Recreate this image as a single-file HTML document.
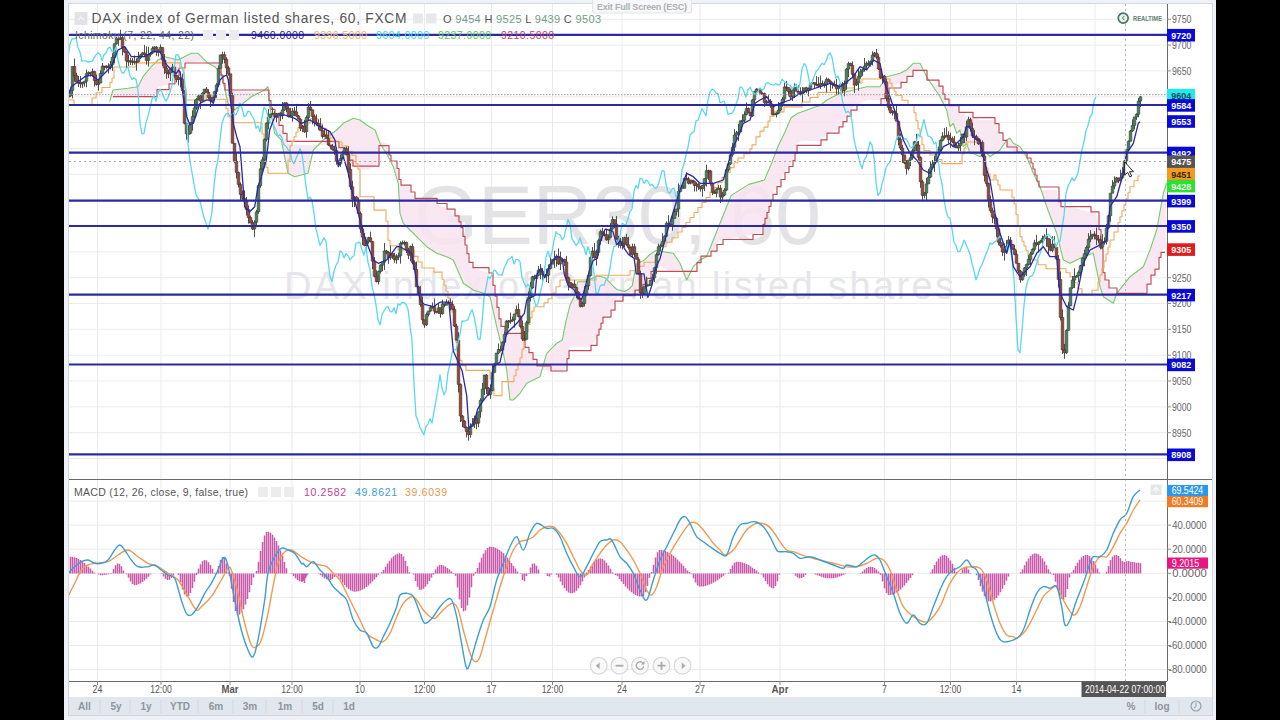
<!DOCTYPE html><html><head><meta charset="utf-8"><style>html,body{margin:0;padding:0;background:#000;overflow:hidden}svg{display:block}text{font-family:"Liberation Sans",sans-serif}</style></head><body><svg width="1280" height="720" viewBox="0 0 1280 720"><defs><clipPath id="cm"><rect x="69" y="4" width="1098" height="475"/></clipPath><clipPath id="cb"><rect x="69" y="480" width="1098" height="201"/></clipPath></defs><rect x="0" y="0" width="1280" height="720" fill="#000"/><rect x="64" y="0" width="1152" height="720" fill="#eef1f6"/><rect x="68.5" y="3.5" width="1144" height="712" fill="#fff" stroke="#d4d8df" stroke-width="1"/><rect x="69" y="697" width="1143" height="18.5" fill="#e2e6ed"/><path d="M69 715.5H1212" stroke="#d0d4db"/><path d="M97.5 4V479M97.5 480V681M161 4V479M161 480V681M230 4V479M230 480V681M292 4V479M292 480V681M360 4V479M360 480V681M424.5 4V479M424.5 480V681M491.5 4V479M491.5 480V681M552.5 4V479M552.5 480V681M622 4V479M622 480V681M700 4V479M700 480V681M780 4V479M780 480V681M884.5 4V479M884.5 480V681M950.5 4V479M950.5 480V681M1016.5 4V479M1016.5 480V681M1095 4V479M1095 480V681M69 458.5H1167M69 432.7H1167M69 406.9H1167M69 381.0H1167M69 355.2H1167M69 329.3H1167M69 303.5H1167M69 277.7H1167M69 251.8H1167M69 226.0H1167M69 200.1H1167M69 174.3H1167M69 148.5H1167M69 122.6H1167M69 96.8H1167M69 70.9H1167M69 45.1H1167M69 19.3H1167M69 669.6H1167M69 645.5H1167M69 621.5H1167M69 597.4H1167M69 573.3H1167M69 549.2H1167M69 525.1H1167M69 501.1H1167" stroke="#ebebeb" stroke-width="1" fill="none"/><text x="414" y="244" font-size="83" fill="#e3e3e6" textLength="407" lengthAdjust="spacingAndGlyphs">GER30, 60</text><text x="284" y="299" font-size="38" fill="#e6e6ea" textLength="670" lengthAdjust="spacing">DAX index of German listed shares</text><g clip-path="url(#cm)"><path d="M113.0 90.0L114.0 89.9L115.0 89.8L116.0 89.7L117.0 89.6L118.0 89.4L119.0 89.3L120.0 89.2L121.0 89.1L122.0 89.0L123.0 88.9L124.0 88.8L125.0 88.7L126.0 88.6L127.0 88.4L128.0 88.3L129.0 88.2L130.0 88.0L131.0 87.8L132.0 87.7L133.0 87.5L134.0 87.3L135.0 87.2L136.0 87.0L137.0 86.8L138.0 86.7L139.0 84.7L140.0 82.7L141.0 80.7L142.0 78.7L143.0 76.7L144.0 75.5L145.0 74.3L146.0 73.1L147.0 71.9L148.0 70.7L149.0 69.5L150.0 68.3L151.0 67.1L152.0 66.0L153.0 65.0L154.0 64.0L155.0 63.0L156.0 62.0L157.0 61.0L158.0 60.0L159.0 59.5L160.0 59.0L161.0 58.5L162.0 58.0L163.0 57.5L164.0 57.0L165.0 56.7L166.0 57.0L167.0 57.2L168.0 57.5L169.0 57.7L170.0 58.0L171.0 58.2L172.0 58.5L173.0 58.8L174.0 59.0L175.0 59.2L176.0 59.5L177.0 59.8L178.0 60.0L179.0 59.5L180.0 59.0L181.0 58.5L182.0 58.0L183.0 57.5L184.0 57.0L185.0 56.5L186.0 56.0L187.0 55.5L188.0 55.0L189.0 54.5L190.0 54.0L191.0 53.5L192.0 53.3L193.0 53.3L194.0 53.3L195.0 53.3L196.0 53.3L197.0 53.3L198.0 53.3L199.0 54.3L200.0 55.3L201.0 56.3L202.0 57.3L203.0 58.3L204.0 59.3L205.0 60.3L206.0 61.3L207.0 62.3L208.0 63.3L209.0 63.8L210.0 64.3L211.0 64.8L212.0 65.3L213.0 65.8L214.0 66.3L215.0 67.0L216.0 68.0L217.0 69.0L218.0 70.0L219.0 71.0L220.0 72.0L221.0 73.0L222.0 76.3L223.0 80.8L224.0 85.3L225.0 89.8L226.0 94.3L227.0 98.8L228.0 103.3L229.0 104.3L230.0 105.3L231.0 106.3L232.0 107.3L233.0 108.3L234.0 109.3L235.0 109.7L236.0 108.9L237.0 108.1L238.0 107.3L239.0 106.5L240.0 105.7L241.0 104.9L242.0 104.1L243.0 103.3L244.0 102.5L245.0 101.7L246.0 100.9L247.0 100.1L248.0 99.3L249.0 98.5L250.0 97.7L251.0 96.9L252.0 96.3L253.0 95.8L254.0 95.3L255.0 94.8L256.0 94.3L257.0 93.8L258.0 93.3L259.0 92.8L260.0 92.3L261.0 91.8L262.0 91.3L263.0 90.8L264.0 90.3L265.0 89.7L266.0 88.7L267.0 87.7L268.0 86.7L269.0 98.7L270.0 108.4L271.0 113.8L272.0 119.1L273.0 124.4L274.0 129.8L275.0 133.7L276.0 134.7L277.0 135.7L278.0 136.7L279.0 137.7L280.0 138.7L281.0 139.7L282.0 143.3L283.0 148.3L284.0 153.3L285.0 158.3L286.0 163.3L287.0 168.3L288.0 173.3L289.0 173.8L290.0 174.3L291.0 174.8L292.0 175.3L293.0 175.8L294.0 176.3L295.0 176.6L296.0 176.3L297.0 176.1L298.0 175.8L299.0 175.6L300.0 175.3L301.0 175.1L302.0 174.8L303.0 174.6L304.0 174.3L305.0 174.1L306.0 173.8L307.0 173.6L308.0 173.3L309.0 169.0L310.0 164.6L311.0 160.2L312.0 155.8L313.0 151.5L314.0 149.3L315.0 148.3L316.0 147.3L317.0 146.3L318.0 145.3L319.0 144.3L320.0 143.3L321.0 142.3L322.0 141.3L323.0 140.3L324.0 139.5L325.0 138.8L326.0 138.0L327.0 137.2L328.0 136.5L329.0 135.8L330.0 135.0L331.0 134.2L332.0 133.5L333.0 132.8L334.0 132.0L335.0 131.2L336.0 130.5L337.0 129.7L338.0 128.7L339.0 127.7L340.0 126.7L341.0 125.7L342.0 124.7L343.0 123.7L344.0 123.0L345.0 122.5L346.0 122.0L347.0 121.5L348.0 121.0L349.0 120.5L350.0 120.0L351.0 119.5L352.0 119.0L353.0 118.5L354.0 118.5L355.0 118.8L356.0 119.0L357.0 119.2L358.0 119.5L359.0 119.8L360.0 120.0L361.0 120.8L362.0 121.5L363.0 122.2L364.0 123.0L365.0 123.7L366.0 124.5L367.0 125.2L368.0 125.8L369.0 126.4L370.0 127.0L371.0 127.6L372.0 128.2L373.0 128.8L374.0 129.4L375.0 130.0L376.0 132.7L377.0 135.3L378.0 138.0L379.0 140.7L380.0 143.3L381.0 144.9L382.0 146.5L383.0 148.1L384.0 149.7L385.0 151.3L386.0 152.9L387.0 154.5L388.0 156.1L389.0 158.0L390.0 160.0L391.0 162.0L392.0 164.0L393.0 166.0L394.0 168.9L395.0 172.2L396.0 175.6L397.0 178.9L398.0 182.2L399.0 195.3L400.0 213.3L401.0 216.3L402.0 219.3L403.0 222.3L404.0 224.0L405.0 225.0L406.0 226.0L407.0 227.0L408.0 228.0L409.0 229.0L410.0 230.0L411.0 231.0L412.0 232.0L413.0 233.0L414.0 234.0L415.0 235.0L416.0 236.0L417.0 237.0L418.0 238.0L419.0 239.0L420.0 240.0L421.0 241.0L422.0 242.0L423.0 243.0L424.0 244.0L425.0 245.0L426.0 246.0L427.0 246.9L428.0 247.6L429.0 248.2L430.0 248.9L431.0 249.6L432.0 250.2L433.0 250.9L434.0 251.6L435.0 252.2L436.0 252.9L437.0 253.4L438.0 253.8L439.0 254.1L440.0 254.4L441.0 254.8L442.0 255.1L443.0 255.4L444.0 255.8L445.0 256.1L446.0 256.4L447.0 256.8L448.0 257.3L449.0 257.8L450.0 258.3L451.0 258.8L452.0 259.3L453.0 259.8L454.0 261.6L455.0 263.9L456.0 266.2L457.0 268.6L458.0 270.9L459.0 273.2L460.0 275.6L461.0 277.9L462.0 280.2L463.0 282.6L464.0 283.8L465.0 284.4L466.0 285.1L467.0 285.8L468.0 286.4L469.0 287.1L470.0 287.8L471.0 288.4L472.0 289.1L473.0 289.8L474.0 290.2L475.0 290.6L476.0 290.9L477.0 291.2L478.0 291.6L479.0 291.9L480.0 292.2L481.0 292.6L482.0 292.9L483.0 293.2L484.0 293.7L485.0 294.2L486.0 294.7L487.0 295.2L488.0 295.7L489.0 296.2L490.0 296.7L491.0 301.2L492.0 305.7L493.0 310.2L494.0 314.7L495.0 319.2L496.0 323.7L497.0 328.0L498.0 332.0L499.0 336.0L500.0 340.0L501.0 344.0L502.0 348.0L503.0 352.0L504.0 356.7L505.0 361.7L506.0 366.7L507.0 373.0L508.0 382.0L509.0 391.0L510.0 400.0L511.0 400.0L512.0 400.0L513.0 400.0L514.0 399.3L515.0 398.3L516.0 397.3L517.0 396.3L518.0 395.3L519.0 394.3L520.0 393.3L521.0 391.8L522.0 390.3L523.0 388.8L524.0 387.3L525.0 385.8L526.0 384.3L527.0 383.2L528.0 382.7L529.0 382.2L530.0 381.7L531.0 381.2L532.0 380.7L533.0 380.2L534.0 379.7L535.0 379.2L536.0 378.7L537.0 378.2L538.0 377.7L539.0 377.2L540.0 376.7L541.0 373.2L542.0 369.7L543.0 366.2L544.0 362.7L545.0 359.2L546.0 355.7L547.0 353.0L548.0 352.0L549.0 351.0L550.0 350.0L551.0 349.0L552.0 348.0L553.0 347.0L554.0 346.0L555.0 345.0L556.0 344.0L557.0 343.1L558.0 342.6L559.0 342.0L560.0 341.4L561.0 340.8L562.0 340.2L563.0 336.4L564.0 331.4L565.0 326.4L566.0 321.4L567.0 317.2L568.0 313.2L569.0 309.2L570.0 305.2L571.0 303.1L572.0 301.1L573.0 299.1L574.0 297.0L575.0 293.0L576.0 289.0L577.0 285.0L578.0 281.7L579.0 281.7L580.0 281.7L581.0 281.7L582.0 281.7L583.0 281.7L584.0 281.7L585.0 281.7L586.0 281.5L587.0 281.0L588.0 280.5L589.0 280.0L590.0 279.5L591.0 279.0L592.0 278.5L593.0 278.0L594.0 277.5L595.0 277.0L596.0 276.5L597.0 276.0L598.0 276.1L599.0 276.3L600.0 276.6L601.0 276.8L602.0 277.1L603.0 277.3L604.0 277.6L605.0 277.8L606.0 278.8L607.0 279.8L608.0 280.8L609.0 281.8L610.0 282.8L611.0 283.8L612.0 284.8L613.0 285.8L614.0 286.8L615.0 287.8L616.0 288.8L617.0 289.6L618.0 289.8L619.0 290.1L620.0 290.3L621.0 290.6L622.0 290.8L623.0 291.1L624.0 291.3L625.0 291.2L626.0 290.7L627.0 290.2L628.0 289.7L629.0 288.9L630.0 287.9L631.0 286.9L632.0 285.9L633.0 281.7L634.0 276.2L635.0 270.7L636.0 265.2L637.0 263.8L638.0 263.3L639.0 262.8L640.0 262.3L641.0 261.8L642.0 261.3L643.0 260.8L644.0 260.3L645.0 259.3L646.0 258.3L647.0 257.3L648.0 256.3L649.0 255.3L650.0 254.3L651.0 253.7L652.0 253.0L653.0 252.3L654.0 251.7L655.0 251.0L656.0 250.6L657.0 250.8L658.0 251.0L659.0 251.1L660.0 251.3L661.0 251.4L662.0 251.6L663.0 251.7L664.0 251.9L665.0 252.0L666.0 252.2L667.0 252.3L668.0 252.5L669.0 252.7L670.0 252.8L671.0 253.0L672.0 253.1L673.0 253.3L674.0 254.3L675.0 255.8L676.0 257.3L677.0 258.8L678.0 260.3L679.0 261.8L680.0 263.3L681.0 265.8L682.0 268.3L683.0 270.8L684.0 273.3L685.0 275.8L686.0 278.3L687.0 279.3L688.0 277.3L689.0 275.3L690.0 273.3L691.0 271.3L692.0 269.3L693.0 267.3L694.0 266.0L695.0 265.0L696.0 264.0L697.0 263.0L698.0 262.0L699.0 261.0L700.0 260.0L701.0 259.5L702.0 259.0L703.0 258.5L704.0 258.0L705.0 257.5L706.0 257.0L707.0 255.8L708.0 253.3L709.0 250.8L710.0 248.3L711.0 245.8L712.0 243.3L713.0 240.8L714.0 238.3L715.0 235.8L716.0 233.3L717.0 230.8L718.0 228.3L719.0 225.8L720.0 223.3L721.0 220.8L722.0 218.3L723.0 215.8L724.0 213.3L725.0 210.8L726.0 208.3L727.0 205.8L728.0 203.3L729.0 200.8L730.0 198.3L731.0 195.8L732.0 195.0L733.0 194.3L734.0 193.6L735.0 193.0L736.0 192.3L737.0 191.6L738.0 191.0L739.0 190.4L740.0 189.8L741.0 189.2L742.0 188.6L743.0 188.0L744.0 187.4L745.0 186.8L746.0 186.2L747.0 185.6L748.0 185.0L749.0 184.4L750.0 184.1L751.0 183.8L752.0 183.6L753.0 183.3L754.0 183.0L755.0 182.7L756.0 182.4L757.0 182.1L758.0 181.8L759.0 181.6L760.0 181.3L761.0 181.0L762.0 180.7L763.0 180.4L764.0 180.1L765.0 178.7L766.0 176.4L767.0 174.0L768.0 171.7L769.0 169.4L770.0 167.0L771.0 164.7L772.0 162.1L773.0 159.4L774.0 156.7L775.0 154.1L776.0 151.4L777.0 148.7L778.0 146.2L779.0 144.2L780.0 142.2L781.0 140.2L782.0 138.2L783.0 136.2L784.0 134.2L785.0 132.0L786.0 129.7L787.0 127.4L788.0 125.0L789.0 122.7L790.0 120.4L791.0 118.0L792.0 117.2L793.0 116.5L794.0 115.9L795.0 115.2L796.0 114.5L797.0 113.9L798.0 113.3L799.0 112.9L800.0 112.6L801.0 112.3L802.0 111.9L803.0 111.6L804.0 111.3L805.0 110.9L806.0 110.5L807.0 110.1L808.0 109.7L809.0 109.3L810.0 108.9L811.0 108.5L812.0 108.1L813.0 107.7L814.0 107.3L815.0 106.9L816.0 106.6L817.0 106.3L818.0 106.1L819.0 105.8L820.0 105.6L821.0 104.7L822.0 103.9L823.0 103.1L824.0 102.2L825.0 101.4L826.0 100.6L827.0 99.8L828.0 99.3L829.0 98.8L830.0 98.3L831.0 97.8L832.0 97.3L833.0 96.8L834.0 96.3L835.0 95.8L836.0 95.3L837.0 94.8L838.0 94.3L839.0 93.8L840.0 93.3L841.0 93.1L842.0 92.8L843.0 92.6L844.0 92.3L845.0 92.1L846.0 91.8L847.0 91.6L848.0 91.3L849.0 91.1L850.0 90.8L851.0 90.6L852.0 90.3L853.0 90.1L854.0 89.8L855.0 89.6L856.0 89.3L857.0 89.1L858.0 88.8L859.0 88.6L860.0 88.3L861.0 88.1L862.0 87.8L863.0 87.6L864.0 87.3L865.0 87.1L866.0 86.8L867.0 86.7L868.0 86.7L869.0 86.7L870.0 86.7L871.0 86.7L872.0 86.7L873.0 86.7L874.0 86.7L875.0 86.7L876.0 86.7L877.0 86.7L878.0 86.7L879.0 86.7L880.0 86.7L881.0 85.2L882.0 83.7L883.0 82.2L884.0 80.7L885.0 79.2L886.0 77.7L887.0 76.6L888.0 76.3L889.0 76.1L890.0 75.8L891.0 75.6L892.0 75.3L893.0 75.1L894.0 74.8L895.0 74.6L896.0 74.3L897.0 74.1L898.0 73.8L899.0 73.6L900.0 73.3L901.0 72.8L902.0 72.3L903.0 71.8L904.0 71.3L905.0 70.8L906.0 70.3L907.0 69.7L908.0 68.7L909.0 67.7L910.0 66.7L911.0 65.7L912.0 64.7L913.0 63.7L914.0 63.3L915.0 63.3L916.0 63.3L917.0 63.3L918.0 63.3L919.0 63.3L920.0 63.3L921.0 65.3L922.0 67.3L923.0 69.3L924.0 71.3L925.0 73.3L926.0 75.3L927.0 77.2L928.0 78.7L929.0 80.2L930.0 81.7L931.0 83.2L932.0 84.7L933.0 86.2L934.0 87.7L935.0 89.2L936.0 90.7L937.0 92.2L938.0 93.7L939.0 95.2L940.0 96.7L941.0 98.7L942.0 100.7L943.0 102.7L944.0 104.7L945.0 106.7L946.0 108.7L947.0 111.7L948.0 116.7L949.0 121.7L950.0 126.7L951.0 125.7L952.0 124.7L953.0 123.7L954.0 125.3L955.0 128.3L956.0 131.3L957.0 133.0L958.0 132.0L959.0 131.0L960.0 130.0L961.0 135.0L962.0 140.0L963.0 145.0L964.0 146.0L965.0 145.0L966.0 144.0L967.0 144.3L968.0 147.3L969.0 150.3L970.0 153.3L971.0 153.3L972.0 153.3L973.0 153.3L974.0 153.7L975.0 154.2L976.0 154.7L977.0 155.2L978.0 155.7L979.0 156.2L980.0 156.7L981.0 156.2L982.0 155.7L983.0 155.2L984.0 154.7L985.0 154.2L986.0 153.7L987.0 153.7L988.0 154.7L989.0 155.7L990.0 156.7L991.0 156.0L992.0 155.3L993.0 154.7L994.0 154.0L995.0 153.3L996.0 152.7L997.0 152.0L998.0 151.3L999.0 150.7L1000.0 150.0L1001.0 148.5L1002.0 147.0L1003.0 145.5L1004.0 144.0L1005.0 142.5L1006.0 141.0L1007.0 139.8L1008.0 139.3L1009.0 138.8L1010.0 138.3L1011.0 139.8L1012.0 141.3L1013.0 142.8L1014.0 143.7L1015.0 144.2L1016.0 144.7L1017.0 145.2L1018.0 145.7L1019.0 146.2L1020.0 146.7L1021.0 148.2L1022.0 149.7L1023.0 151.2L1024.0 152.7L1025.0 154.2L1026.0 155.7L1027.0 157.5L1028.0 160.0L1029.0 162.5L1030.0 165.0L1031.0 167.5L1032.0 170.0L1033.0 172.5L1034.0 174.7L1035.0 176.7L1036.0 178.7L1037.0 180.7L1038.0 182.7L1039.0 184.7L1040.0 186.7L1041.0 189.7L1042.0 192.7L1043.0 195.7L1044.0 198.7L1045.0 201.7L1046.0 204.7L1047.0 207.6L1048.0 210.2L1049.0 212.9L1050.0 215.6L1051.0 218.2L1052.0 220.9L1053.0 223.6L1054.0 226.2L1055.0 228.9L1056.0 231.6L1057.0 234.7L1058.0 238.7L1059.0 242.7L1060.0 246.7L1061.0 250.7L1062.0 254.7L1063.0 258.7L1064.0 260.3L1065.0 260.8L1066.0 261.3L1067.0 261.8L1068.0 262.3L1069.0 262.8L1070.0 263.3L1071.0 262.8L1072.0 262.3L1073.0 261.8L1074.0 261.3L1075.0 260.8L1076.0 260.3L1077.0 259.8L1078.0 259.3L1079.0 258.8L1080.0 258.3L1081.0 257.8L1082.0 257.3L1083.0 256.8L1084.0 256.4L1085.0 256.1L1086.0 255.8L1087.0 255.4L1088.0 255.1L1089.0 254.8L1090.0 254.4L1091.0 254.1L1092.0 253.8L1093.0 253.4L1094.0 256.7L1095.0 261.7L1096.0 266.7L1097.0 271.7L1098.0 276.7L1099.0 281.7L1100.0 286.7L1101.0 289.7L1102.0 292.7L1103.0 295.7L1104.0 297.1L1105.0 297.8L1106.0 298.4L1107.0 299.1L1108.0 299.8L1109.0 300.4L1110.0 301.1L1111.0 301.8L1112.0 302.4L1113.0 303.1L1114.0 301.3L1115.0 298.3L1116.0 295.3L1117.0 292.9L1118.0 291.7L1119.0 290.4L1120.0 289.2L1121.0 287.9L1122.0 286.7L1123.0 285.4L1124.0 284.2L1125.0 282.9L1126.0 281.7L1127.0 280.4L1128.0 279.2L1129.0 277.9L1130.0 276.7L1131.0 275.9L1132.0 275.2L1133.0 274.4L1134.0 273.7L1135.0 272.9L1136.0 272.2L1137.0 271.4L1138.0 270.7L1139.0 269.9L1140.0 269.2L1141.0 268.4L1142.0 267.7L1143.0 266.9L1144.0 265.0L1145.0 262.5L1146.0 260.0L1147.0 257.5L1148.0 255.0L1149.0 252.5L1150.0 250.0L1151.0 247.0L1152.0 244.0L1153.0 241.0L1154.0 238.0L1155.0 235.0L1156.0 232.0L1157.0 228.2L1158.0 222.7L1159.0 217.2L1160.0 211.7L1161.0 206.2L1162.0 200.7L1163.0 195.2L1164.0 191.3L1165.0 188.3L1166.0 185.3L1166.0 247.3L1165.0 248.3L1164.0 249.3L1163.0 250.3L1162.0 251.3L1161.0 252.3L1160.0 253.3L1159.0 257.3L1158.0 261.3L1157.0 265.3L1156.0 267.7L1155.0 269.2L1154.0 270.7L1153.0 272.2L1152.0 273.7L1151.0 275.2L1150.0 276.7L1149.0 279.2L1148.0 281.7L1147.0 284.2L1146.0 286.7L1145.0 289.2L1144.0 291.7L1143.0 293.3L1142.0 293.3L1141.0 293.3L1140.0 293.3L1139.0 293.3L1138.0 293.3L1137.0 293.3L1136.0 293.3L1135.0 293.3L1134.0 293.3L1133.0 293.3L1132.0 293.3L1131.0 293.3L1130.0 293.3L1129.0 293.3L1128.0 293.3L1127.0 293.3L1126.0 293.3L1125.0 293.3L1124.0 293.3L1123.0 293.3L1122.0 293.3L1121.0 293.3L1120.0 293.3L1119.0 293.3L1118.0 293.3L1117.0 293.3L1116.0 293.0L1115.0 292.5L1114.0 292.0L1113.0 291.5L1112.0 291.0L1111.0 290.5L1110.0 290.0L1109.0 288.0L1108.0 286.0L1107.0 284.0L1106.0 282.0L1105.0 280.0L1104.0 278.0L1103.0 272.7L1102.0 260.7L1101.0 248.7L1100.0 236.7L1099.0 229.7L1098.0 222.7L1097.0 215.7L1096.0 213.2L1095.0 212.9L1094.0 212.7L1093.0 212.4L1092.0 212.2L1091.0 211.9L1090.0 211.7L1089.0 211.4L1088.0 211.2L1087.0 210.9L1086.0 210.7L1085.0 210.4L1084.0 210.2L1083.0 209.9L1082.0 209.7L1081.0 209.4L1080.0 209.2L1079.0 208.9L1078.0 208.7L1077.0 208.4L1076.0 208.2L1075.0 207.9L1074.0 207.7L1073.0 207.4L1072.0 207.2L1071.0 206.9L1070.0 206.7L1069.0 206.7L1068.0 206.7L1067.0 206.7L1066.0 206.7L1065.0 206.7L1064.0 206.7L1063.0 206.7L1062.0 206.7L1061.0 206.7L1060.0 206.7L1059.0 201.7L1058.0 196.7L1057.0 191.7L1056.0 190.0L1055.0 190.0L1054.0 190.0L1053.0 190.0L1052.0 190.0L1051.0 190.0L1050.0 190.0L1049.0 190.0L1048.0 190.0L1047.0 190.0L1046.0 190.0L1045.0 190.0L1044.0 190.0L1043.0 190.0L1042.0 190.0L1041.0 190.0L1040.0 190.0L1039.0 187.0L1038.0 184.0L1037.0 181.0L1036.0 178.0L1035.0 175.0L1034.0 172.0L1033.0 169.0L1032.0 166.0L1031.0 163.0L1030.0 160.0L1029.0 159.3L1028.0 158.7L1027.0 158.0L1026.0 157.3L1025.0 156.7L1024.0 156.0L1023.0 155.3L1022.0 154.7L1021.0 154.0L1020.0 153.3L1019.0 153.0L1018.0 152.7L1017.0 152.3L1016.0 152.0L1015.0 151.7L1014.0 151.3L1013.0 151.0L1012.0 150.7L1011.0 150.3L1010.0 150.0L1009.0 149.0L1008.0 148.0L1007.0 147.0L1006.0 145.5L1005.0 143.8L1004.0 142.0L1003.0 140.3L1002.0 138.5L1001.0 136.8L1000.0 135.0L999.0 132.8L998.0 130.5L997.0 128.2L996.0 126.0L995.0 123.7L994.0 121.5L993.0 120.0L992.0 120.0L991.0 120.0L990.0 120.0L989.0 120.0L988.0 120.0L987.0 120.0L986.0 120.0L985.0 120.0L984.0 120.0L983.0 120.0L982.0 120.0L981.0 120.0L980.0 120.0L979.0 119.7L978.0 119.3L977.0 119.0L976.0 118.7L975.0 118.3L974.0 118.0L973.0 117.7L972.0 117.3L971.0 117.0L970.0 116.7L969.0 116.7L968.0 116.7L967.0 116.7L966.0 116.3L965.0 115.8L964.0 115.3L963.0 114.8L962.0 114.3L961.0 113.8L960.0 113.3L959.0 112.3L958.0 111.3L957.0 110.3L956.0 109.3L955.0 108.3L954.0 107.3L953.0 106.7L952.0 106.7L951.0 106.7L950.0 106.7L949.0 105.7L948.0 104.7L947.0 103.7L946.0 101.7L945.0 99.2L944.0 96.7L943.0 94.2L942.0 91.7L941.0 89.2L940.0 86.7L939.0 86.2L938.0 85.7L937.0 85.2L936.0 84.7L935.0 84.2L934.0 83.7L933.0 83.2L932.0 82.7L931.0 82.2L930.0 81.7L929.0 81.2L928.0 80.7L927.0 80.2L926.0 78.0L925.0 75.0L924.0 72.0L923.0 70.0L922.0 70.0L921.0 70.0L920.0 70.0L919.0 70.0L918.0 70.0L917.0 70.0L916.0 70.0L915.0 70.0L914.0 70.0L913.0 70.3L912.0 71.3L911.0 72.3L910.0 73.3L909.0 74.3L908.0 75.3L907.0 76.3L906.0 77.3L905.0 78.3L904.0 79.3L903.0 80.3L902.0 81.3L901.0 82.3L900.0 83.3L899.0 83.7L898.0 84.0L897.0 84.3L896.0 84.7L895.0 85.0L894.0 85.3L893.0 85.7L892.0 86.0L891.0 86.3L890.0 86.7L889.0 88.0L888.0 89.3L887.0 90.7L886.0 92.0L885.0 93.3L884.0 94.7L883.0 96.0L882.0 97.3L881.0 98.7L880.0 100.0L879.0 100.0L878.0 100.0L877.0 100.0L876.0 100.0L875.0 100.0L874.0 100.0L873.0 100.0L872.0 100.0L871.0 100.0L870.0 100.0L869.0 100.0L868.0 100.0L867.0 100.0L866.0 100.3L865.0 100.8L864.0 101.3L863.0 101.8L862.0 102.3L861.0 102.8L860.0 103.3L859.0 103.8L858.0 104.3L857.0 104.8L856.0 105.3L855.0 105.8L854.0 106.3L853.0 107.2L852.0 108.7L851.0 110.2L850.0 111.7L849.0 113.2L848.0 114.7L847.0 116.2L846.0 117.6L845.0 118.9L844.0 120.2L843.0 121.6L842.0 122.9L841.0 124.2L840.0 125.6L839.0 126.9L838.0 128.2L837.0 129.6L836.0 130.2L835.0 130.6L834.0 130.9L833.0 131.2L832.0 131.6L831.0 131.9L830.0 132.2L829.0 132.6L828.0 132.9L827.0 133.2L826.0 134.1L825.0 135.3L824.0 136.4L823.0 137.6L822.0 138.8L821.0 139.9L820.0 141.1L819.0 141.1L818.0 141.1L817.0 141.1L816.0 141.1L815.0 141.1L814.0 141.1L813.0 141.1L812.0 141.1L811.0 141.1L810.0 141.1L809.0 141.1L808.0 141.1L807.0 141.1L806.0 141.1L805.0 141.1L804.0 141.1L803.0 141.1L802.0 141.2L801.0 141.4L800.0 141.7L799.0 141.9L798.0 142.2L797.0 145.3L796.0 149.3L795.0 153.3L794.0 157.3L793.0 160.5L792.0 162.0L791.0 163.5L790.0 165.0L789.0 166.5L788.0 168.0L787.0 169.5L786.0 171.0L785.0 172.5L784.0 174.1L783.0 175.9L782.0 177.7L781.0 179.5L780.0 181.3L779.0 183.1L778.0 184.9L777.0 186.7L776.0 188.5L775.0 190.3L774.0 192.1L773.0 194.3L772.0 197.3L771.0 200.3L770.0 203.3L769.0 206.3L768.0 209.3L767.0 212.3L766.0 215.3L765.0 218.3L764.0 221.3L763.0 224.3L762.0 227.3L761.0 230.3L760.0 233.3L759.0 233.5L758.0 233.7L757.0 233.8L756.0 234.0L755.0 234.2L754.0 234.3L753.0 234.5L752.0 234.7L751.0 234.8L750.0 235.0L749.0 235.2L748.0 235.3L747.0 235.5L746.0 235.7L745.0 235.8L744.0 236.0L743.0 236.2L742.0 236.3L741.0 236.5L740.0 236.7L739.0 236.8L738.0 237.0L737.0 237.2L736.0 237.3L735.0 237.5L734.0 237.7L733.0 237.8L732.0 238.0L731.0 238.2L730.0 238.3L729.0 238.5L728.0 238.7L727.0 238.8L726.0 239.0L725.0 239.2L724.0 239.3L723.0 239.5L722.0 239.7L721.0 239.8L720.0 240.0L719.0 241.5L718.0 243.0L717.0 244.5L716.0 246.0L715.0 247.5L714.0 249.0L713.0 250.2L712.0 250.7L711.0 251.2L710.0 251.7L709.0 252.2L708.0 252.7L707.0 253.2L706.0 253.7L705.0 254.2L704.0 254.7L703.0 255.2L702.0 255.7L701.0 256.2L700.0 256.7L699.0 258.7L698.0 260.7L697.0 262.7L696.0 264.7L695.0 266.7L694.0 268.7L693.0 270.0L692.0 270.0L691.0 270.0L690.0 270.0L689.0 270.0L688.0 270.0L687.0 270.0L686.0 270.0L685.0 270.0L684.0 270.0L683.0 270.0L682.0 270.0L681.0 270.0L680.0 270.0L679.0 270.0L678.0 270.0L677.0 270.0L676.0 270.0L675.0 270.0L674.0 270.0L673.0 270.0L672.0 270.0L671.0 270.0L670.0 270.0L669.0 270.0L668.0 270.0L667.0 270.0L666.0 269.6L665.0 269.1L664.0 268.6L663.0 268.0L662.0 267.5L661.0 266.9L660.0 266.4L659.0 266.4L658.0 266.9L657.0 267.4L656.0 267.9L655.0 268.4L654.0 268.9L653.0 269.4L652.0 269.9L651.0 271.4L650.0 273.1L649.0 274.9L648.0 276.6L647.0 278.4L646.0 280.1L645.0 281.9L644.0 283.6L643.0 284.4L642.0 285.1L641.0 285.9L640.0 286.6L639.0 287.4L638.0 288.1L637.0 288.9L636.0 289.6L635.0 290.1L634.0 290.6L633.0 291.1L632.0 291.6L631.0 292.1L630.0 292.6L629.0 293.1L628.0 293.6L627.0 294.1L626.0 294.6L625.0 295.1L624.0 295.5L623.0 295.7L622.0 296.0L621.0 296.2L620.0 296.5L619.0 296.7L618.0 297.0L617.0 297.2L616.0 298.9L615.0 301.2L614.0 303.4L613.0 305.7L612.0 307.9L611.0 310.2L610.0 312.4L609.0 314.7L608.0 315.1L607.0 315.4L606.0 315.8L605.0 316.1L604.0 316.4L603.0 317.1L602.0 320.1L601.0 323.1L600.0 326.1L599.0 329.1L598.0 332.1L597.0 335.1L596.0 338.1L595.0 340.5L594.0 341.7L593.0 343.0L592.0 344.2L591.0 345.4L590.0 346.7L589.0 346.7L588.0 346.7L587.0 346.7L586.0 346.7L585.0 346.7L584.0 346.7L583.0 346.7L582.0 346.7L581.0 346.7L580.0 346.7L579.0 346.7L578.0 346.7L577.0 346.7L576.0 346.7L575.0 346.7L574.0 346.7L573.0 346.7L572.0 346.7L571.0 346.7L570.0 346.7L569.0 350.7L568.0 354.7L567.0 358.7L566.0 362.7L565.0 366.7L564.0 370.7L563.0 373.3L562.0 373.1L561.0 372.9L560.0 372.7L559.0 372.5L558.0 372.3L557.0 372.1L556.0 371.9L555.0 371.7L554.0 371.6L553.0 371.4L552.0 371.2L551.0 371.0L550.0 370.8L549.0 370.6L548.0 370.4L547.0 370.2L546.0 370.0L545.0 369.8L544.0 369.7L543.0 369.5L542.0 369.3L541.0 369.1L540.0 368.9L539.0 367.9L538.0 366.9L537.0 365.9L536.0 364.9L535.0 363.3L534.0 361.3L533.0 359.3L532.0 357.3L531.0 355.4L530.0 354.1L529.0 352.7L528.0 351.4L527.0 350.1L526.0 348.7L525.0 347.4L524.0 344.0L523.0 338.0L522.0 333.3L521.0 333.3L520.0 333.3L519.0 333.3L518.0 333.3L517.0 333.3L516.0 333.3L515.0 333.3L514.0 333.3L513.0 333.3L512.0 333.3L511.0 333.3L510.0 333.3L509.0 333.3L508.0 333.3L507.0 333.3L506.0 333.3L505.0 333.3L504.0 332.4L503.0 330.4L502.0 328.4L501.0 326.4L500.0 324.4L499.0 318.8L498.0 313.1L497.0 307.4L496.0 301.8L495.0 296.1L494.0 290.4L493.0 285.3L492.0 281.3L491.0 277.3L490.0 273.3L489.0 273.0L488.0 272.7L487.0 272.3L486.0 272.0L485.0 271.7L484.0 271.3L483.0 271.0L482.0 270.7L481.0 270.3L480.0 270.0L479.0 269.7L478.0 269.3L477.0 269.0L476.0 268.7L475.0 268.3L474.0 268.0L473.0 267.7L472.0 267.3L471.0 267.0L470.0 266.7L469.0 262.3L468.0 258.0L467.0 253.7L466.0 249.3L465.0 245.0L464.0 240.7L463.0 236.3L462.0 232.0L461.0 227.7L460.0 223.3L459.0 221.8L458.0 220.3L457.0 218.8L456.0 217.3L455.0 215.8L454.0 214.3L453.0 213.1L452.0 212.4L451.0 211.8L450.0 211.1L449.0 210.4L448.0 209.8L447.0 209.1L446.0 208.4L445.0 207.8L444.0 207.1L443.0 206.5L442.0 206.0L441.0 205.5L440.0 205.0L439.0 204.5L438.0 204.0L437.0 203.5L436.0 203.0L435.0 202.5L434.0 202.0L433.0 201.6L432.0 201.5L431.0 201.4L430.0 201.3L429.0 201.2L428.0 201.1L427.0 201.0L426.0 200.9L425.0 200.8L424.0 200.7L423.0 200.6L422.0 200.5L421.0 200.4L420.0 200.3L419.0 200.2L418.0 200.1L417.0 200.0L416.0 199.3L415.0 198.3L414.0 197.3L413.0 196.0L412.0 194.0L411.0 192.0L410.0 190.0L409.0 188.0L408.0 186.6L407.0 186.4L406.0 186.2L405.0 186.0L404.0 185.8L403.0 185.6L402.0 185.4L401.0 185.2L400.0 185.0L399.0 179.5L398.0 174.0L397.0 168.5L396.0 166.0L395.0 165.0L394.0 164.0L393.0 163.0L392.0 162.0L391.0 161.0L390.0 160.0L389.0 155.0L388.0 150.0L387.0 145.0L386.0 143.1L385.0 142.8L384.0 142.4L383.0 142.1L382.0 141.8L381.0 142.7L380.0 144.2L379.0 145.7L378.0 150.7L377.0 162.7L376.0 166.9L375.0 167.2L374.0 167.6L373.0 167.9L372.0 168.2L371.0 168.6L370.0 168.9L369.0 169.2L368.0 169.6L367.0 169.9L366.0 169.8L365.0 169.6L364.0 169.3L363.0 169.1L362.0 168.8L361.0 168.6L360.0 168.3L359.0 168.1L358.0 167.8L357.0 167.6L356.0 167.3L355.0 167.1L354.0 166.8L353.0 166.2L352.0 164.7L351.0 163.2L350.0 161.7L349.0 160.2L348.0 158.7L347.0 157.2L346.0 155.9L345.0 154.7L344.0 153.6L343.0 152.4L342.0 151.2L341.0 150.1L340.0 148.9L339.0 147.7L338.0 146.6L337.0 145.4L336.0 145.0L335.0 145.0L334.0 145.0L333.0 145.0L332.0 145.0L331.0 145.0L330.0 145.0L329.0 145.0L328.0 145.0L327.0 145.0L326.0 145.0L325.0 145.0L324.0 145.0L323.0 145.0L322.0 145.0L321.0 145.0L320.0 145.0L319.0 145.0L318.0 145.0L317.0 145.0L316.0 145.0L315.0 145.0L314.0 145.0L313.0 145.0L312.0 145.0L311.0 145.0L310.0 145.0L309.0 145.0L308.0 145.0L307.0 145.0L306.0 145.0L305.0 145.0L304.0 145.0L303.0 145.0L302.0 145.0L301.0 145.0L300.0 144.8L299.0 144.7L298.0 144.6L297.0 144.5L296.0 144.3L295.0 144.2L294.0 144.1L293.0 144.0L292.0 143.8L291.0 143.7L290.0 143.6L289.0 143.5L288.0 143.3L287.0 141.3L286.0 139.3L285.0 137.3L284.0 135.3L283.0 133.3L282.0 131.3L281.0 129.3L280.0 127.3L279.0 125.3L278.0 123.3L277.0 121.3L276.0 119.3L275.0 117.3L274.0 115.3L273.0 113.3L272.0 111.3L271.0 109.3L270.0 107.3L269.0 100.7L268.0 91.7L267.0 91.7L266.0 91.7L265.0 91.7L264.0 91.7L263.0 91.7L262.0 91.7L261.0 91.7L260.0 91.7L259.0 91.7L258.0 91.7L257.0 91.7L256.0 91.7L255.0 91.7L254.0 91.7L253.0 91.7L252.0 91.7L251.0 91.7L250.0 91.7L249.0 91.7L248.0 91.7L247.0 91.7L246.0 91.7L245.0 91.7L244.0 91.7L243.0 91.7L242.0 91.7L241.0 91.6L240.0 91.5L239.0 91.4L238.0 91.3L237.0 91.2L236.0 91.1L235.0 91.0L234.0 90.9L233.0 90.8L232.0 90.7L231.0 90.6L230.0 90.5L229.0 90.4L228.0 90.3L227.0 90.2L226.0 90.1L225.0 90.0L224.0 87.3L223.0 83.3L222.0 79.3L221.0 75.2L220.0 70.7L219.0 66.2L218.0 61.7L217.0 61.7L216.0 61.7L215.0 61.7L214.0 61.7L213.0 61.7L212.0 61.7L211.0 61.7L210.0 61.7L209.0 61.7L208.0 61.7L207.0 61.7L206.0 61.7L205.0 61.7L204.0 61.7L203.0 61.7L202.0 61.7L201.0 61.7L200.0 61.7L199.0 61.7L198.0 61.7L197.0 61.8L196.0 61.9L195.0 62.0L194.0 62.1L193.0 62.2L192.0 62.3L191.0 62.4L190.0 62.5L189.0 62.6L188.0 62.7L187.0 62.8L186.0 62.9L185.0 63.0L184.0 63.1L183.0 63.2L182.0 63.3L181.0 64.0L180.0 66.0L179.0 68.0L178.0 70.0L177.0 72.0L176.0 74.0L175.0 76.0L174.0 77.5L173.0 78.8L172.0 80.0L171.0 81.2L170.0 82.5L169.0 83.8L168.0 85.0L167.0 85.2L166.0 85.3L165.0 85.5L164.0 85.7L163.0 85.8L162.0 86.0L161.0 86.2L160.0 86.3L159.0 86.5L158.0 86.7L157.0 89.7L156.0 92.7L155.0 95.7L154.0 96.7L153.0 96.7L152.0 96.7L151.0 96.7L150.0 96.7L149.0 96.7L148.0 96.7L147.0 96.7L146.0 96.7L145.0 96.7L144.0 96.7L143.0 96.7L142.0 96.7L141.0 96.7L140.0 96.7L139.0 96.7L138.0 96.7L137.0 96.7L136.0 96.7L135.0 96.7L134.0 96.7L133.0 96.7L132.0 96.7L131.0 96.7L130.0 96.7L129.0 96.7L128.0 96.7L127.0 96.7L126.0 96.7L125.0 96.7L124.0 96.7L123.0 96.7L122.0 96.7L121.0 96.7L120.0 96.7L119.0 96.7L118.0 96.7L117.0 96.7L116.0 96.7L115.0 96.7L114.0 96.7L113.0 96.7Z" fill="#f8e4f0" fill-opacity="0.85"/><path d="M109.7 101.7L113.0 90.0L128.0 88.3L138.0 86.7L143.0 76.7L151.3 66.7L158.0 60.0L164.7 56.7L178.0 60.0L191.3 53.3L198.0 53.3L208.0 63.3L214.7 66.7L221.3 73.3L228.0 103.3L234.7 110.0L251.3 96.7L264.7 90.0L268.0 86.7L269.7 106.7L274.7 133.3L281.3 140.0L288.0 173.3L294.7 176.7L308.0 173.3L313.3 150.0L323.3 140.0L336.7 130.0L343.3 123.3L353.3 118.3L360.0 120.0L366.7 125.0L375.0 130.0L380.0 143.3L388.3 156.7L393.3 166.7L398.3 183.3L400.0 213.3L403.3 223.3L410.0 230.0L416.7 236.7L426.7 246.7L436.7 253.3L446.7 256.7L453.3 260.0L463.3 283.3L473.3 290.0L483.3 293.3L490.0 296.7L496.7 326.7L503.3 353.3L506.7 370.0L510.0 400.0L513.3 400.0L520.0 393.3L526.7 383.3L540.0 376.7L546.7 353.3L556.7 343.3L562.3 340.1L566.1 320.6L570.0 305.1L573.9 297.3L577.8 281.7L585.6 281.7L593.4 277.8L597.3 275.9L601.2 276.8L605.1 277.8L608.9 281.7L612.8 285.6L616.7 289.5L624.5 291.4L628.4 289.5L632.3 285.6L636.2 264.2L644.0 260.3L649.8 254.5L655.6 250.6L673.3 253.3L680.0 263.3L686.7 280.0L693.3 266.7L700.0 260.0L706.7 256.7L713.3 240.0L720.0 223.3L731.1 195.6L737.8 191.1L748.9 184.4L764.4 180.0L771.1 164.4L777.8 146.7L784.4 133.3L791.1 117.8L797.8 113.3L804.4 111.1L815.6 106.7L820.0 105.6L826.7 100.0L840.0 93.3L853.3 90.0L866.7 86.7L880.0 86.7L886.7 76.7L900.0 73.3L906.7 70.0L913.3 63.3L920.0 63.3L926.7 76.7L933.3 86.7L940.0 96.7L946.7 110.0L950.0 126.7L953.3 123.3L956.7 133.3L960.0 130.0L963.3 146.7L966.7 143.3L970.0 153.3L973.3 153.3L980.0 156.7L986.7 153.3L990.0 156.7L1000.0 150.0L1006.7 140.0L1010.0 138.3L1013.3 143.3L1020.0 146.7L1026.7 156.7L1033.3 173.3L1040.0 186.7L1046.7 206.7L1056.7 233.3L1063.3 260.0L1070.0 263.3L1083.3 256.7L1093.3 253.3L1100.0 286.7L1103.3 296.7L1113.3 303.3L1116.7 293.3L1130.0 276.7L1143.3 266.7L1150.0 250.0L1156.7 230.0L1163.3 193.3L1166.7 183.3" stroke="#74cc6a" stroke-width="1.1" fill="none" stroke-linejoin="round"/><path d="M113.0 96.7L157.0 96.7L157.0 89.7L169.0 89.7L169.0 83.8L175.0 83.8L175.0 76.0L179.0 76.0L179.0 68.0L185.0 68.0L185.0 63.0L221.0 63.0L221.0 75.2L223.0 75.2L223.0 83.3L225.0 83.3L225.0 90.0L269.0 90.0L269.0 100.7L271.0 100.7L271.0 109.3L275.0 109.3L275.0 117.3L279.0 117.3L279.0 125.3L283.0 125.3L283.0 133.3L287.0 133.3L287.0 141.3L339.0 141.3L339.0 147.7L345.0 147.7L345.0 154.7L349.0 154.7L349.0 160.2L353.0 160.2L353.0 166.2L379.0 166.2L379.0 145.7L389.0 145.7L389.0 155.0L391.0 155.0L391.0 161.0L397.0 161.0L397.0 168.5L399.0 168.5L399.0 179.5L401.0 179.5L401.0 185.2L411.0 185.2L411.0 192.0L415.0 192.0L415.0 198.3L437.0 198.3L437.0 203.5L447.0 203.5L447.0 209.1L455.0 209.1L455.0 215.8L459.0 215.8L459.0 221.8L461.0 221.8L461.0 227.7L463.0 227.7L463.0 236.3L465.0 236.3L465.0 245.0L467.0 245.0L467.0 253.7L469.0 253.7L469.0 262.3L473.0 262.3L473.0 267.7L489.0 267.7L489.0 273.0L493.0 273.0L493.0 285.3L495.0 285.3L495.0 296.1L497.0 296.1L497.0 307.4L499.0 307.4L499.0 318.8L501.0 318.8L501.0 326.4L505.0 326.4L505.0 333.3L525.0 333.3L525.0 347.4L529.0 347.4L529.0 352.7L533.0 352.7L533.0 359.3L537.0 359.3L537.0 365.9L551.0 365.9L551.0 371.0L567.0 371.0L567.0 358.7L569.0 358.7L569.0 350.7L591.0 350.7L591.0 345.4L597.0 345.4L597.0 335.1L599.0 335.1L599.0 329.1L601.0 329.1L601.0 323.1L603.0 323.1L603.0 317.1L611.0 317.1L611.0 310.2L615.0 310.2L615.0 301.2L623.0 301.2L623.0 295.7L635.0 295.7L635.0 290.1L643.0 290.1L643.0 284.4L647.0 284.4L647.0 278.4L651.0 278.4L651.0 271.4L697.0 271.4L697.0 262.7L701.0 262.7L701.0 256.2L711.0 256.2L711.0 251.2L717.0 251.2L717.0 244.5L723.0 244.5L723.0 239.5L753.0 239.5L753.0 234.5L763.0 234.5L763.0 224.3L765.0 224.3L765.0 218.3L767.0 218.3L767.0 212.3L769.0 212.3L769.0 206.3L771.0 206.3L771.0 200.3L773.0 200.3L773.0 194.3L777.0 194.3L777.0 186.7L781.0 186.7L781.0 179.5L785.0 179.5L785.0 172.5L789.0 172.5L789.0 166.5L793.0 166.5L793.0 160.5L795.0 160.5L795.0 153.3L797.0 153.3L797.0 145.3L821.0 145.3L821.0 139.9L827.0 139.9L827.0 133.2L839.0 133.2L839.0 126.9L843.0 126.9L843.0 121.6L847.0 121.6L847.0 116.2L851.0 116.2L851.0 110.2L857.0 110.2L857.0 104.8L881.0 104.8L881.0 98.7L885.0 98.7L885.0 93.3L889.0 93.3L889.0 88.0L901.0 88.0L901.0 82.3L907.0 82.3L907.0 76.3L913.0 76.3L913.0 70.3L927.0 70.3L927.0 80.2L939.0 80.2L939.0 86.2L943.0 86.2L943.0 94.2L945.0 94.2L945.0 99.2L949.0 99.2L949.0 105.7L959.0 105.7L959.0 112.3L973.0 112.3L973.0 117.7L995.0 117.7L995.0 123.7L999.0 123.7L999.0 132.8L1003.0 132.8L1003.0 140.3L1007.0 140.3L1007.0 147.0L1017.0 147.0L1017.0 152.3L1027.0 152.3L1027.0 158.0L1031.0 158.0L1031.0 163.0L1033.0 163.0L1033.0 169.0L1035.0 169.0L1035.0 175.0L1037.0 175.0L1037.0 181.0L1039.0 181.0L1039.0 187.0L1059.0 187.0L1059.0 201.7L1061.0 201.7L1061.0 206.7L1091.0 206.7L1091.0 211.9L1099.0 211.9L1099.0 229.7L1101.0 229.7L1101.0 248.7L1103.0 248.7L1103.0 272.7L1105.0 272.7L1105.0 280.0L1109.0 280.0L1109.0 288.0L1117.0 288.0L1117.0 293.3L1147.0 293.3L1147.0 284.2L1151.0 284.2L1151.0 275.2L1155.0 275.2L1155.0 269.2L1159.0 269.2L1159.0 257.3L1161.0 257.3L1161.0 252.3L1165.0 252.3" stroke="#c24c56" stroke-width="1.2" fill="none" stroke-linejoin="round"/><path d="M68.0 100.0L74.0 100.0L74.0 104.5L92.0 104.5L92.0 98.0L96.0 98.0L96.0 92.7L102.0 92.7L102.0 87.5L110.0 87.5L110.0 82.5L112.0 82.5L112.0 78.0L114.0 78.0L114.0 67.0L136.0 67.0L136.0 62.9L180.0 62.9L180.0 68.0L184.0 68.0L184.0 88.0L186.0 88.0L186.0 100.0L206.0 100.0L206.0 95.3L212.0 95.3L212.0 99.3L226.0 99.3L226.0 108.7L228.0 108.7L228.0 116.7L232.0 116.7L232.0 122.7L262.0 122.7L262.0 134.0L264.0 134.0L264.0 156.0L266.0 156.0L266.0 167.3L268.0 167.3L268.0 173.3L288.0 173.3L288.0 160.0L290.0 160.0L290.0 145.9L292.0 145.9L292.0 141.3L294.0 141.3L294.0 136.8L296.0 136.8L296.0 132.2L298.0 132.2L298.0 127.6L300.0 127.6L300.0 123.0L310.0 123.0L310.0 118.9L318.0 118.9L318.0 123.8L322.0 123.8L322.0 128.4L326.0 128.4L326.0 133.1L330.0 133.1L330.0 137.8L334.0 137.8L334.0 142.0L342.0 142.0L342.0 146.0L348.0 146.0L348.0 151.3L352.0 151.3L352.0 155.3L356.0 155.3L356.0 163.8L358.0 163.8L358.0 169.1L360.0 169.1L360.0 196.7L374.0 196.7L374.0 210.1L386.0 210.1L386.0 221.2L388.0 221.2L388.0 240.2L390.0 240.2L390.0 245.8L398.0 245.8L398.0 249.9L414.0 249.9L414.0 256.4L418.0 256.4L418.0 262.0L422.0 262.0L422.0 268.0L434.0 268.0L434.0 272.1L442.0 272.1L442.0 279.3L444.0 279.3L444.0 285.3L446.0 285.3L446.0 291.3L448.0 291.3L448.0 298.0L450.0 298.0L450.0 305.0L452.0 305.0L452.0 312.0L454.0 312.0L454.0 323.2L456.0 323.2L456.0 342.7L458.0 342.7L458.0 360.3L462.0 360.3L462.0 365.6L466.0 365.6L466.0 370.4L490.0 370.4L490.0 378.9L492.0 378.9L492.0 388.9L494.0 388.9L494.0 395.6L502.0 395.6L502.0 381.6L514.0 381.6L514.0 375.8L516.0 375.8L516.0 369.8L518.0 369.8L518.0 363.8L520.0 363.8L520.0 357.8L522.0 357.8L522.0 349.1L524.0 349.1L524.0 340.4L526.0 340.4L526.0 331.8L528.0 331.8L528.0 324.4L530.0 324.4L530.0 317.8L532.0 317.8L532.0 311.1L534.0 311.1L534.0 306.7L544.0 306.7L544.0 302.7L548.0 302.7L548.0 298.7L552.0 298.7L552.0 293.3L556.0 293.3L556.0 286.7L560.0 286.7L560.0 280.0L596.0 280.0L596.0 275.3L630.0 275.3L630.0 270.8L636.0 270.8L636.0 266.3L644.0 266.3L644.0 262.3L656.0 262.3L656.0 254.7L658.0 254.7L658.0 250.7L660.0 250.7L660.0 246.7L666.0 246.7L666.0 242.2L672.0 242.2L672.0 237.7L678.0 237.7L678.0 232.0L682.0 232.0L682.0 227.5L686.0 227.5L686.0 222.5L690.0 222.5L690.0 217.5L694.0 217.5L694.0 212.5L698.0 212.5L698.0 207.5L702.0 207.5L702.0 202.5L706.0 202.5L706.0 197.5L710.0 197.5L710.0 192.5L714.0 192.5L714.0 187.5L718.0 187.5L718.0 182.5L722.0 182.5L722.0 177.5L726.0 177.5L726.0 172.5L730.0 172.5L730.0 167.6L734.0 167.6L734.0 162.8L738.0 162.8L738.0 158.0L744.0 158.0L744.0 153.6L750.0 153.6L750.0 148.9L752.0 148.9L752.0 144.9L756.0 144.9L756.0 136.9L760.0 136.9L760.0 131.1L764.0 131.1L764.0 127.1L768.0 127.1L768.0 121.1L770.0 121.1L770.0 116.1L774.0 116.1L774.0 111.9L784.0 111.9L784.0 106.9L802.0 106.9L802.0 102.0L810.0 102.0L810.0 97.5L818.0 97.5L818.0 92.4L844.0 92.4L844.0 88.0L854.0 88.0L854.0 83.0L862.0 83.0L862.0 79.0L890.0 79.0L890.0 83.3L892.0 83.3L892.0 87.3L894.0 87.3L894.0 91.3L896.0 91.3L896.0 95.3L902.0 95.3L902.0 100.2L908.0 100.2L908.0 104.7L914.0 104.7L914.0 112.7L916.0 112.7L916.0 120.7L918.0 120.7L918.0 128.7L920.0 128.7L920.0 136.7L922.0 136.7L922.0 144.7L924.0 144.7L924.0 150.5L930.0 150.5L930.0 155.0L936.0 155.0L936.0 159.5L942.0 159.5L942.0 163.6L962.0 163.6L962.0 154.0L964.0 154.0L964.0 148.0L966.0 148.0L966.0 142.0L980.0 142.0L980.0 146.7L982.0 146.7L982.0 154.7L984.0 154.7L984.0 162.0L986.0 162.0L986.0 168.0L988.0 168.0L988.0 174.0L990.0 174.0L990.0 180.0L994.0 180.0L994.0 175.0L996.0 175.0L996.0 180.0L998.0 180.0L998.0 185.0L1000.0 185.0L1000.0 190.0L1012.0 190.0L1012.0 197.3L1014.0 197.3L1014.0 203.7L1016.0 203.7L1016.0 214.7L1018.0 214.7L1018.0 225.7L1020.0 225.7L1020.0 236.7L1022.0 236.7L1022.0 241.3L1024.0 241.3L1024.0 246.0L1026.0 246.0L1026.0 250.7L1028.0 250.7L1028.0 255.3L1030.0 255.3L1030.0 260.0L1038.0 260.0L1038.0 264.7L1046.0 264.7L1046.0 268.7L1066.0 268.7L1066.0 272.7L1070.0 272.7L1070.0 276.7L1074.0 276.7L1074.0 282.7L1078.0 282.7L1078.0 288.7L1082.0 288.7L1082.0 294.7L1092.0 294.7L1092.0 290.2L1098.0 290.2L1098.0 282.0L1100.0 282.0L1100.0 275.0L1102.0 275.0L1102.0 268.0L1104.0 268.0L1104.0 261.0L1106.0 261.0L1106.0 254.0L1108.0 254.0L1108.0 247.0L1110.0 247.0L1110.0 240.0L1114.0 240.0L1114.0 232.0L1118.0 232.0L1118.0 222.7L1120.0 222.7L1120.0 216.7L1122.0 216.7L1122.0 210.7L1124.0 210.7L1124.0 204.7L1126.0 204.7L1126.0 198.7L1128.0 198.7L1128.0 192.7L1130.0 192.7L1130.0 186.7L1134.0 186.7L1134.0 180.7L1138.0 180.7L1138.0 176.0L1140.0 176.0" stroke="#eeaa5a" stroke-width="1.1" fill="none" stroke-linejoin="round"/><path d="M68.50 87.9V103.1M70.50 90.4V96.9M72.50 66.5V98.4M74.50 58.5V81.7M76.50 72.7V83.0M78.50 76.0V87.2M80.50 76.1V87.9M82.50 81.8V88.0M84.50 81.2V86.8M86.50 69.6V87.2M88.50 71.4V75.6M90.50 72.4V76.6M92.50 68.6V76.8M94.50 70.6V86.5M96.50 74.5V85.6M98.50 79.1V90.6M100.50 70.3V83.1M102.50 63.0V74.3M104.50 66.0V70.2M106.50 65.2V69.4M108.50 63.3V73.5M110.50 60.8V69.4M112.50 53.3V70.8M114.50 43.7V63.3M116.50 36.7V44.7M118.50 38.7V45.9M120.50 29.8V40.0M122.50 34.8V55.4M124.50 47.4V53.0M126.50 51.0V69.1M128.50 54.8V66.0M130.50 57.8V65.0M132.50 57.9V65.3M134.50 55.4V64.6M136.50 58.4V70.6M138.50 51.9V62.6M140.50 53.9V58.9M142.50 51.9V56.9M144.50 44.9V56.3M146.50 46.3V64.6M148.50 46.7V66.6M150.50 52.1V56.7M152.50 46.3V54.1M154.50 46.1V52.3M156.50 46.1V55.8M158.50 49.2V56.4M160.50 44.4V53.2M162.50 47.4V66.0M164.50 54.0V74.0M166.50 66.0V78.8M168.50 69.8V78.0M170.50 68.8V81.0M172.50 64.0V72.8M174.50 66.0V77.5M176.50 74.5V82.4M178.50 75.8V85.4M180.50 71.8V87.5M182.50 73.5V93.5M184.50 90.5V124.3M186.50 123.3V139.8M188.50 125.3V142.5M190.50 122.6V134.3M192.50 110.4V130.6M194.50 99.8V118.4M196.50 98.2V109.8M198.50 94.9V100.2M200.50 94.9V109.1M202.50 92.1V101.1M204.50 89.1V94.1M206.50 87.1V92.2M208.50 89.2V98.8M210.50 94.8V107.1M212.50 96.7V102.1M214.50 90.7V100.7M216.50 83.0V97.7M218.50 65.4V87.0M220.50 54.9V68.4M222.50 51.7V63.9M224.50 51.7V63.3M226.50 57.3V75.9M228.50 65.9V75.8M230.50 73.8V101.7M232.50 92.7V143.3M234.50 143.3V163.2M236.50 153.2V178.5M238.50 171.5V187.4M240.50 182.4V200.4M242.50 190.4V200.4M244.50 190.4V201.1M246.50 197.1V215.5M248.50 205.5V223.6M250.50 215.6V223.1M252.50 220.1V230.1M254.50 220.3V237.1M256.50 209.8V225.3M258.50 183.8V213.8M260.50 160.8V187.8M262.50 156.7V171.8M264.50 138.4V167.7M266.50 122.2V141.4M268.50 109.1V129.2M270.50 114.1V118.1M272.50 107.4V114.6M274.50 111.4V116.3M276.50 113.0V122.3M278.50 113.2V114.4M280.50 112.2V121.1M282.50 101.9V119.1M284.50 102.0V110.9M286.50 102.0V112.2M288.50 106.2V117.6M290.50 107.7V116.9M292.50 108.0V121.7M294.50 107.0V116.2M296.50 103.9V117.0M298.50 115.0V119.2M300.50 118.2V131.2M302.50 124.9V132.2M304.50 119.9V132.8M306.50 115.4V137.8M308.50 103.1V120.4M310.50 101.1V110.8M312.50 109.8V124.4M314.50 114.4V126.4M316.50 114.4V125.6M318.50 119.5V130.1M320.50 118.1V130.6M322.50 124.6V138.6M324.50 128.8V136.6M326.50 128.8V138.4M328.50 130.4V146.0M330.50 145.0V149.2M332.50 144.0V150.6M334.50 145.6V154.8M336.50 147.3V164.7M338.50 160.7V166.8M340.50 154.5V166.8M342.50 150.8V158.5M344.50 147.5V153.8M346.50 146.5V155.3M348.50 146.3V177.4M350.50 163.4V189.7M352.50 180.7V207.1M354.50 196.0V207.1M356.50 196.0V200.7M358.50 197.7V214.5M360.50 211.5V232.9M362.50 224.9V245.1M364.50 233.1V246.4M366.50 239.7V251.4M368.50 236.7V243.7M370.50 231.7V242.5M372.50 241.5V269.1M374.50 257.1V277.3M376.50 270.3V282.5M378.50 270.5V284.5M380.50 264.2V273.5M382.50 261.1V271.2M384.50 242.9V270.1M386.50 249.9V254.2M388.50 251.2V263.8M390.50 245.6V259.8M392.50 252.6V258.8M394.50 252.8V262.8M396.50 254.2V263.8M398.50 252.7V260.2M400.50 241.3V263.7M402.50 240.5V244.7M404.50 240.5V245.7M406.50 241.5V253.0M408.50 248.0V259.2M410.50 245.6V261.2M412.50 243.6V264.4M414.50 260.4V270.5M416.50 261.5V286.8M418.50 285.8V294.2M420.50 286.2V306.8M422.50 296.8V323.8M424.50 319.8V327.9M426.50 312.5V325.9M428.50 311.0V316.5M430.50 305.6V312.0M432.50 302.5V308.7M434.50 298.5V314.3M436.50 311.3V313.5M438.50 303.8V314.0M440.50 307.8V317.7M442.50 299.8V314.7M444.50 303.8V307.2M446.50 299.4V305.2M448.50 300.4V303.6M450.50 298.5V310.5M452.50 300.5V310.2M454.50 306.2V327.0M456.50 324.0V340.2M458.50 332.2V392.4M460.50 383.4V422.0M462.50 415.0V427.1M464.50 420.1V428.3M466.50 426.3V437.4M468.50 428.4V440.6M470.50 423.3V437.6M472.50 418.1V426.3M474.50 415.6V428.1M476.50 412.6V429.2M478.50 411.7V427.2M480.50 398.3V417.7M482.50 383.0V402.3M484.50 375.0V395.0M486.50 374.0V394.0M488.50 387.0V395.8M490.50 384.4V398.8M492.50 364.4V391.4M494.50 362.8V372.4M496.50 353.1V364.8M498.50 343.5V354.1M500.50 345.5V351.7M502.50 341.2V354.1M504.50 331.4V343.2M506.50 320.0V335.4M508.50 320.0V328.2M510.50 312.6V323.8M512.50 316.7V321.9M514.50 313.9V327.7M516.50 305.5V313.9M518.50 303.5V317.4M520.50 315.4V328.5M522.50 320.5V341.0M524.50 331.0V341.2M526.50 320.8V339.3M528.50 291.6V323.8M530.50 281.9V301.6M532.50 275.7V288.9M534.50 274.7V280.5M536.50 275.2V278.5M538.50 266.1V276.2M540.50 264.1V279.3M542.50 268.1V280.6M544.50 271.6V277.8M546.50 268.8V282.0M548.50 264.5V283.2M550.50 256.2V269.5M552.50 259.5V264.2M554.50 250.7V267.9M556.50 254.3V266.7M558.50 248.3V265.0M560.50 251.6V270.0M562.50 258.6V261.8M564.50 258.6V265.9M566.50 255.9V281.6M568.50 276.6V290.5M570.50 282.5V287.1M572.50 283.1V288.1M574.50 280.1V288.3M576.50 287.3V298.2M578.50 291.2V299.2M580.50 298.2V307.4M582.50 301.5V307.4M584.50 286.2V306.5M586.50 284.9V296.2M588.50 274.6V289.9M590.50 254.3V276.6M592.50 247.1V260.3M594.50 243.1V258.7M596.50 249.6V265.7M598.50 238.7V255.6M600.50 229.7V244.7M602.50 227.7V234.2M604.50 232.2V236.4M606.50 228.6V240.8M608.50 234.4V243.8M610.50 222.9V238.4M612.50 216.4V229.9M614.50 219.4V228.0M616.50 216.0V239.8M618.50 235.8V247.8M620.50 237.8V248.5M622.50 237.1V249.5M624.50 236.8V247.1M626.50 233.8V245.8M628.50 236.8V249.5M630.50 246.5V254.8M632.50 243.7V257.8M634.50 243.7V257.3M636.50 253.3V259.2M638.50 257.2V274.7M640.50 270.7V298.9M642.50 286.9V298.1M644.50 286.3V294.5M646.50 276.7V288.3M648.50 284.7V285.9M650.50 280.1V285.5M652.50 273.8V283.1M654.50 266.8V281.8M656.50 252.7V273.8M658.50 243.7V255.7M660.50 243.7V250.9M662.50 233.3V246.7M664.50 235.2V241.3M666.50 221.3V237.2M668.50 215.3V225.5M670.50 223.3V226.5M672.50 215.5V230.6M674.50 208.5V218.5M676.50 208.9V215.5M678.50 183.4V216.9M680.50 183.4V192.4M682.50 185.4V188.3M684.50 178.3V188.3M686.50 172.3V180.5M688.50 176.8V184.3M690.50 180.1V184.3M692.50 180.1V183.5M694.50 180.5V191.5M696.50 182.1V191.5M698.50 183.1V190.1M700.50 186.1V191.7M702.50 185.2V196.7M704.50 178.6V191.2M706.50 164.7V186.6M708.50 169.7V179.9M710.50 169.9V185.5M712.50 182.5V195.2M714.50 190.2V193.4M716.50 188.2V197.3M718.50 185.2V189.4M720.50 185.2V203.1M722.50 192.0V200.1M724.50 188.1V196.0M726.50 169.7V191.1M728.50 161.0V171.7M730.50 152.8V165.0M732.50 143.2V156.8M734.50 129.1V151.2M736.50 130.8V141.1M738.50 123.9V141.1M740.50 120.8V131.9M742.50 114.3V123.5M744.50 111.4V122.3M746.50 102.5V115.4M748.50 107.5V113.3M750.50 112.3V115.9M752.50 98.9V116.9M754.50 90.8V103.9M756.50 88.1V91.8M758.50 89.1V90.3M760.50 88.8V93.3M762.50 92.3V94.5M764.50 92.5V106.7M766.50 100.0V104.2M768.50 95.1V103.3M770.50 99.1V107.8M772.50 103.8V115.4M774.50 113.7V114.9M776.50 112.2V117.4M778.50 102.1V114.2M780.50 102.8V111.1M782.50 97.1V106.8M784.50 82.9V103.1M786.50 80.9V91.1M788.50 87.5V95.6M790.50 88.6V100.0M792.50 89.9V101.0M794.50 83.3V97.9M796.50 84.3V91.3M798.50 85.3V93.3M800.50 87.3V95.5M802.50 87.1V102.0M804.50 87.8V93.1M806.50 86.8V93.3M808.50 87.5V96.3M810.50 83.4V90.5M812.50 79.6V83.8M814.50 82.6V88.1M816.50 76.1V86.3M818.50 76.9V87.1M820.50 75.5V89.1M822.50 80.5V85.9M824.50 81.5V87.7M826.50 77.3V92.5M828.50 78.3V82.2M830.50 80.2V91.1M832.50 82.1V88.6M834.50 80.6V86.8M836.50 79.1V94.6M838.50 86.0V94.6M840.50 84.0V91.0M842.50 82.0V93.3M844.50 80.6V96.3M846.50 68.1V89.6M848.50 61.6V77.1M850.50 62.6V65.4M852.50 61.4V78.4M854.50 73.4V93.0M856.50 78.7V86.0M858.50 68.7V90.7M860.50 68.8V78.7M862.50 68.7V75.8M864.50 58.0V71.7M866.50 61.3V69.0M868.50 60.3V65.6M870.50 60.5V66.6M872.50 51.2V65.5M874.50 52.0V57.2M876.50 49.0V59.2M878.50 54.2V70.0M880.50 68.0V79.0M882.50 74.0V84.0M884.50 75.0V82.9M886.50 78.9V101.5M888.50 92.5V110.3M890.50 105.3V113.7M892.50 110.2V115.7M894.50 109.2V119.2M896.50 105.2V121.2M898.50 121.2V145.4M900.50 133.4V150.1M902.50 145.1V162.9M904.50 154.9V164.1M906.50 160.1V174.6M908.50 160.1V170.6M910.50 151.7V166.1M912.50 148.7V159.7M914.50 140.8V151.7M916.50 133.8V151.1M918.50 141.1V160.4M920.50 156.4V187.8M922.50 179.8V201.4M924.50 192.0V198.4M926.50 177.9V201.0M928.50 169.1V183.9M930.50 161.8V178.1M932.50 160.0V167.8M934.50 156.1V172.0M936.50 152.8V162.1M938.50 146.6V155.8M940.50 139.4V151.6M942.50 132.1V141.4M944.50 128.1V139.3M946.50 127.2V137.0M948.50 131.2V143.3M950.50 132.6V147.8M952.50 136.6V143.0M954.50 136.0V147.7M956.50 142.7V147.9M958.50 142.4V150.9M960.50 137.0V151.4M962.50 134.0V143.0M964.50 133.0V143.1M966.50 120.8V141.1M968.50 116.7V127.8M970.50 117.7V131.6M972.50 122.6V138.0M974.50 130.0V145.2M976.50 134.7V139.7M978.50 137.7V144.9M980.50 140.4V151.9M982.50 140.4V156.9M984.50 151.9V181.4M986.50 167.4V186.6M988.50 182.6V207.5M990.50 195.5V212.7M992.50 207.7V223.1M994.50 214.1V224.3M996.50 217.3V236.9M998.50 228.9V245.2M1000.50 238.2V247.7M1002.50 242.7V255.9M1004.50 243.3V260.5M1006.50 240.1V252.3M1008.50 236.1V247.1M1010.50 237.1V250.3M1012.50 244.3V249.9M1014.50 244.9V255.3M1016.50 250.3V263.3M1018.50 263.3V273.0M1020.50 270.0V282.8M1022.50 271.8V280.8M1024.50 267.0V276.8M1026.50 263.6V276.0M1028.50 255.3V265.6M1030.50 251.9V265.3M1032.50 248.3V254.9M1034.50 239.8V251.3M1036.50 234.8V246.4M1038.50 241.4V252.4M1040.50 240.1V243.4M1042.50 235.6V247.1M1044.50 234.3V239.6M1046.50 228.3V246.6M1048.50 238.6V254.8M1050.50 238.8V251.3M1052.50 236.1V252.3M1054.50 236.1V248.3M1056.50 247.3V260.1M1058.50 255.1V287.5M1060.50 271.5V320.4M1062.50 309.4V353.9M1064.50 343.9V358.8M1066.50 329.4V353.8M1068.50 301.8V330.4M1070.50 287.8V305.8M1072.50 276.1V288.8M1074.50 268.3V288.1M1076.50 275.0V277.2M1078.50 270.4V282.0M1080.50 264.8V276.4M1082.50 257.3V269.8M1084.50 249.8V266.3M1086.50 245.5V256.8M1088.50 233.2V251.5M1090.50 230.2V242.2M1092.50 234.2V239.2M1094.50 231.2V239.5M1096.50 227.5V245.0M1098.50 235.0V243.2M1100.50 235.8V249.3M1102.50 234.2V248.3M1104.50 237.4V244.6M1106.50 223.9V244.4M1108.50 214.7V228.9M1110.50 193.2V221.7M1112.50 180.1V193.2M1114.50 176.3V189.1M1116.50 176.9V182.3M1118.50 177.9V182.9M1120.50 169.7V180.9M1122.50 167.1V178.7M1124.50 159.9V175.1M1126.50 149.6V168.9M1128.50 140.3V150.6M1130.50 129.9V141.3M1132.50 119.4V131.9M1134.50 117.0V129.4M1136.50 113.3V120.0M1138.50 98.1V117.3M1140.50 95.8V107.1" stroke="#505050" stroke-width="1" fill="none"/><path d="M69.20 90.4h2.6V95.9h-2.6ZM71.20 66.5h2.6V90.4h-2.6ZM81.20 82.8h2.6V84.0h-2.6ZM83.20 81.2h2.6V82.8h-2.6ZM85.20 73.6h2.6V81.2h-2.6ZM87.20 72.4h2.6V73.6h-2.6ZM91.20 71.6h2.6V72.8h-2.6ZM97.20 83.1h2.6V84.6h-2.6ZM99.20 73.3h2.6V83.1h-2.6ZM101.20 66.0h2.6V73.3h-2.6ZM109.20 64.8h2.6V67.4h-2.6ZM111.20 57.3h2.6V64.8h-2.6ZM113.20 43.7h2.6V57.3h-2.6ZM115.20 38.7h2.6V43.7h-2.6ZM119.20 37.8h2.6V39.0h-2.6ZM127.20 60.8h2.6V62.0h-2.6ZM133.20 61.4h2.6V62.6h-2.6ZM137.20 57.9h2.6V61.6h-2.6ZM139.20 54.9h2.6V57.9h-2.6ZM141.20 52.9h2.6V54.9h-2.6ZM147.20 54.7h2.6V60.6h-2.6ZM149.20 53.1h2.6V54.7h-2.6ZM151.20 48.3h2.6V53.1h-2.6ZM153.20 47.1h2.6V48.3h-2.6ZM157.20 51.2h2.6V52.4h-2.6ZM159.20 47.4h2.6V51.2h-2.6ZM169.20 68.8h2.6V73.0h-2.6ZM171.20 67.0h2.6V68.8h-2.6ZM177.20 77.8h2.6V79.4h-2.6ZM187.20 133.3h2.6V134.5h-2.6ZM189.20 122.6h2.6V133.3h-2.6ZM191.20 116.4h2.6V122.6h-2.6ZM193.20 107.8h2.6V116.4h-2.6ZM195.20 99.2h2.6V107.8h-2.6ZM197.20 95.9h2.6V99.2h-2.6ZM201.20 93.1h2.6V101.1h-2.6ZM203.20 89.1h2.6V93.1h-2.6ZM211.20 97.7h2.6V101.1h-2.6ZM213.20 91.7h2.6V97.7h-2.6ZM215.20 85.0h2.6V91.7h-2.6ZM217.20 68.4h2.6V85.0h-2.6ZM219.20 54.9h2.6V68.4h-2.6ZM221.20 54.7h2.6V55.9h-2.6ZM253.20 222.3h2.6V229.1h-2.6ZM255.20 211.8h2.6V222.3h-2.6ZM257.20 185.8h2.6V211.8h-2.6ZM259.20 168.8h2.6V185.8h-2.6ZM261.20 159.7h2.6V168.8h-2.6ZM263.20 139.4h2.6V159.7h-2.6ZM265.20 123.2h2.6V139.4h-2.6ZM267.20 117.1h2.6V123.2h-2.6ZM269.20 114.1h2.6V117.1h-2.6ZM271.20 113.4h2.6V114.6h-2.6ZM275.20 114.0h2.6V116.3h-2.6ZM277.20 113.2h2.6V114.4h-2.6ZM281.20 109.9h2.6V115.1h-2.6ZM283.20 103.0h2.6V109.9h-2.6ZM289.20 115.7h2.6V116.9h-2.6ZM291.20 111.0h2.6V115.7h-2.6ZM301.20 125.9h2.6V128.2h-2.6ZM305.20 117.4h2.6V131.8h-2.6ZM307.20 107.1h2.6V117.4h-2.6ZM323.20 134.8h2.6V136.6h-2.6ZM339.20 158.5h2.6V163.8h-2.6ZM341.20 153.8h2.6V158.5h-2.6ZM343.20 148.5h2.6V153.8h-2.6ZM353.20 197.0h2.6V199.1h-2.6ZM365.20 241.7h2.6V245.4h-2.6ZM367.20 237.7h2.6V241.7h-2.6ZM377.20 271.5h2.6V281.5h-2.6ZM379.20 265.2h2.6V271.5h-2.6ZM381.20 262.1h2.6V265.2h-2.6ZM383.20 250.9h2.6V262.1h-2.6ZM389.20 253.6h2.6V257.8h-2.6ZM395.20 257.2h2.6V259.8h-2.6ZM397.20 255.7h2.6V257.2h-2.6ZM399.20 243.3h2.6V255.7h-2.6ZM401.20 242.5h2.6V243.7h-2.6ZM403.20 242.5h2.6V243.7h-2.6ZM409.20 246.6h2.6V255.2h-2.6ZM425.20 314.5h2.6V324.9h-2.6ZM427.20 311.0h2.6V314.5h-2.6ZM429.20 307.6h2.6V311.0h-2.6ZM431.20 306.5h2.6V307.7h-2.6ZM437.20 307.8h2.6V312.0h-2.6ZM441.20 303.8h2.6V313.7h-2.6ZM445.20 302.4h2.6V305.2h-2.6ZM469.20 426.3h2.6V434.6h-2.6ZM471.20 424.1h2.6V426.3h-2.6ZM473.20 418.6h2.6V424.1h-2.6ZM477.20 411.7h2.6V423.2h-2.6ZM479.20 400.3h2.6V411.7h-2.6ZM481.20 389.0h2.6V400.3h-2.6ZM483.20 375.0h2.6V389.0h-2.6ZM489.20 390.4h2.6V394.8h-2.6ZM491.20 372.4h2.6V390.4h-2.6ZM493.20 363.8h2.6V372.4h-2.6ZM495.20 353.1h2.6V363.8h-2.6ZM497.20 349.5h2.6V353.1h-2.6ZM501.20 342.2h2.6V350.1h-2.6ZM503.20 334.4h2.6V342.2h-2.6ZM505.20 321.0h2.6V334.4h-2.6ZM509.20 320.6h2.6V321.8h-2.6ZM511.20 319.7h2.6V320.9h-2.6ZM513.20 313.9h2.6V319.7h-2.6ZM515.20 309.5h2.6V313.9h-2.6ZM525.20 322.8h2.6V339.3h-2.6ZM527.20 297.6h2.6V322.8h-2.6ZM529.20 287.9h2.6V297.6h-2.6ZM531.20 276.7h2.6V287.9h-2.6ZM535.20 275.2h2.6V278.5h-2.6ZM537.20 270.1h2.6V275.2h-2.6ZM547.20 268.5h2.6V275.2h-2.6ZM549.20 264.2h2.6V268.5h-2.6ZM551.20 259.5h2.6V264.2h-2.6ZM553.20 258.7h2.6V259.9h-2.6ZM555.20 256.3h2.6V258.7h-2.6ZM559.20 259.6h2.6V264.0h-2.6ZM571.20 284.1h2.6V287.1h-2.6ZM581.20 303.5h2.6V306.4h-2.6ZM583.20 294.2h2.6V303.5h-2.6ZM585.20 285.9h2.6V294.2h-2.6ZM587.20 275.6h2.6V285.9h-2.6ZM589.20 257.3h2.6V275.6h-2.6ZM591.20 251.1h2.6V257.3h-2.6ZM595.20 252.6h2.6V257.7h-2.6ZM597.20 240.7h2.6V252.6h-2.6ZM599.20 231.7h2.6V240.7h-2.6ZM607.20 237.4h2.6V239.8h-2.6ZM609.20 228.9h2.6V237.4h-2.6ZM611.20 219.4h2.6V228.9h-2.6ZM621.20 243.1h2.6V245.5h-2.6ZM623.20 237.8h2.6V243.1h-2.6ZM631.20 246.7h2.6V254.8h-2.6ZM643.20 286.3h2.6V293.5h-2.6ZM645.20 284.7h2.6V286.3h-2.6ZM649.20 280.1h2.6V285.5h-2.6ZM651.20 277.8h2.6V280.1h-2.6ZM653.20 267.8h2.6V277.8h-2.6ZM655.20 254.7h2.6V267.8h-2.6ZM657.20 246.7h2.6V254.7h-2.6ZM659.20 245.7h2.6V246.9h-2.6ZM661.20 241.3h2.6V245.7h-2.6ZM663.20 236.2h2.6V241.3h-2.6ZM665.20 223.3h2.6V236.2h-2.6ZM671.20 218.5h2.6V224.6h-2.6ZM673.20 211.5h2.6V218.5h-2.6ZM675.20 208.9h2.6V211.5h-2.6ZM677.20 191.4h2.6V208.9h-2.6ZM679.20 185.4h2.6V191.4h-2.6ZM683.20 178.3h2.6V188.3h-2.6ZM689.20 180.1h2.6V183.3h-2.6ZM695.20 184.1h2.6V185.5h-2.6ZM701.20 185.2h2.6V188.7h-2.6ZM703.20 178.6h2.6V185.2h-2.6ZM705.20 170.7h2.6V178.6h-2.6ZM715.20 189.2h2.6V193.3h-2.6ZM717.20 188.2h2.6V189.4h-2.6ZM721.20 195.0h2.6V197.1h-2.6ZM723.20 190.1h2.6V195.0h-2.6ZM725.20 169.7h2.6V190.1h-2.6ZM727.20 164.0h2.6V169.7h-2.6ZM729.20 154.8h2.6V164.0h-2.6ZM731.20 147.2h2.6V154.8h-2.6ZM733.20 135.1h2.6V147.2h-2.6ZM735.20 132.8h2.6V135.1h-2.6ZM737.20 131.9h2.6V133.1h-2.6ZM739.20 120.8h2.6V131.9h-2.6ZM741.20 120.3h2.6V121.5h-2.6ZM743.20 114.4h2.6V120.3h-2.6ZM745.20 108.5h2.6V114.4h-2.6ZM751.20 99.9h2.6V115.9h-2.6ZM753.20 91.8h2.6V99.9h-2.6ZM755.20 89.1h2.6V91.8h-2.6ZM765.20 102.0h2.6V103.2h-2.6ZM767.20 101.1h2.6V102.3h-2.6ZM773.20 113.7h2.6V114.9h-2.6ZM775.20 113.2h2.6V114.4h-2.6ZM777.20 110.1h2.6V113.2h-2.6ZM779.20 103.8h2.6V110.1h-2.6ZM781.20 99.1h2.6V103.8h-2.6ZM783.20 86.9h2.6V99.1h-2.6ZM791.20 89.9h2.6V97.0h-2.6ZM793.20 87.3h2.6V89.9h-2.6ZM801.20 91.1h2.6V94.0h-2.6ZM803.20 87.8h2.6V91.1h-2.6ZM807.20 88.5h2.6V90.3h-2.6ZM809.20 83.4h2.6V88.5h-2.6ZM811.20 82.6h2.6V83.8h-2.6ZM819.20 83.5h2.6V85.1h-2.6ZM823.20 84.5h2.6V85.7h-2.6ZM825.20 79.3h2.6V84.5h-2.6ZM837.20 87.0h2.6V88.6h-2.6ZM839.20 84.0h2.6V87.0h-2.6ZM843.20 83.6h2.6V90.3h-2.6ZM845.20 69.1h2.6V83.6h-2.6ZM847.20 63.6h2.6V69.1h-2.6ZM855.20 82.7h2.6V85.0h-2.6ZM857.20 76.7h2.6V82.7h-2.6ZM859.20 71.8h2.6V76.7h-2.6ZM861.20 69.7h2.6V71.8h-2.6ZM863.20 66.0h2.6V69.7h-2.6ZM865.20 63.3h2.6V66.0h-2.6ZM869.20 61.5h2.6V64.6h-2.6ZM871.20 55.2h2.6V61.5h-2.6ZM873.20 53.0h2.6V55.2h-2.6ZM881.20 76.0h2.6V78.0h-2.6ZM891.20 111.2h2.6V112.7h-2.6ZM907.20 160.1h2.6V168.6h-2.6ZM909.20 157.7h2.6V160.1h-2.6ZM911.20 150.7h2.6V157.7h-2.6ZM913.20 141.8h2.6V150.7h-2.6ZM923.20 193.0h2.6V195.4h-2.6ZM925.20 183.9h2.6V193.0h-2.6ZM927.20 177.1h2.6V183.9h-2.6ZM929.20 167.8h2.6V177.1h-2.6ZM931.20 164.0h2.6V167.8h-2.6ZM933.20 162.1h2.6V164.0h-2.6ZM935.20 153.8h2.6V162.1h-2.6ZM937.20 149.6h2.6V153.8h-2.6ZM939.20 140.4h2.6V149.6h-2.6ZM941.20 136.1h2.6V140.4h-2.6ZM945.20 135.2h2.6V137.0h-2.6ZM949.20 138.6h2.6V139.8h-2.6ZM957.20 145.4h2.6V147.9h-2.6ZM959.20 143.0h2.6V145.4h-2.6ZM961.20 134.0h2.6V143.0h-2.6ZM965.20 126.8h2.6V137.1h-2.6ZM967.20 119.7h2.6V126.8h-2.6ZM979.20 142.4h2.6V143.9h-2.6ZM1003.20 251.3h2.6V252.5h-2.6ZM1005.20 246.1h2.6V251.3h-2.6ZM1007.20 240.1h2.6V246.1h-2.6ZM1021.20 274.8h2.6V279.8h-2.6ZM1023.20 268.0h2.6V274.8h-2.6ZM1025.20 264.6h2.6V268.0h-2.6ZM1027.20 259.3h2.6V264.6h-2.6ZM1029.20 253.9h2.6V259.3h-2.6ZM1031.20 249.3h2.6V253.9h-2.6ZM1033.20 242.8h2.6V249.3h-2.6ZM1037.20 242.4h2.6V244.4h-2.6ZM1039.20 241.1h2.6V242.4h-2.6ZM1041.20 238.6h2.6V241.1h-2.6ZM1043.20 236.3h2.6V238.6h-2.6ZM1051.20 244.1h2.6V250.3h-2.6ZM1065.20 330.4h2.6V352.8h-2.6ZM1067.20 305.8h2.6V330.4h-2.6ZM1069.20 287.8h2.6V305.8h-2.6ZM1071.20 280.1h2.6V287.8h-2.6ZM1073.20 276.3h2.6V280.1h-2.6ZM1075.20 276.0h2.6V277.2h-2.6ZM1077.20 272.4h2.6V276.0h-2.6ZM1079.20 265.8h2.6V272.4h-2.6ZM1081.20 258.3h2.6V265.8h-2.6ZM1083.20 253.8h2.6V258.3h-2.6ZM1085.20 247.5h2.6V253.8h-2.6ZM1087.20 239.2h2.6V247.5h-2.6ZM1089.20 236.2h2.6V239.2h-2.6ZM1091.20 234.2h2.6V236.2h-2.6ZM1101.20 242.2h2.6V247.3h-2.6ZM1103.20 241.4h2.6V242.6h-2.6ZM1105.20 227.9h2.6V241.4h-2.6ZM1107.20 215.7h2.6V227.9h-2.6ZM1109.20 193.2h2.6V215.7h-2.6ZM1111.20 186.1h2.6V193.2h-2.6ZM1113.20 182.3h2.6V186.1h-2.6ZM1115.20 177.9h2.6V182.3h-2.6ZM1119.20 177.7h2.6V180.9h-2.6ZM1121.20 173.1h2.6V177.7h-2.6ZM1123.20 160.9h2.6V173.1h-2.6ZM1125.20 149.6h2.6V160.9h-2.6ZM1127.20 141.3h2.6V149.6h-2.6ZM1129.20 130.9h2.6V141.3h-2.6ZM1131.20 125.4h2.6V130.9h-2.6ZM1133.20 117.0h2.6V125.4h-2.6ZM1135.20 114.3h2.6V117.0h-2.6ZM1137.20 101.1h2.6V114.3h-2.6ZM1139.20 96.8h2.6V101.1h-2.6Z" fill="#4b7d58" stroke="#34463a" stroke-width="0.6"/><path d="M67.20 95.9h2.6V97.1h-2.6ZM73.20 66.5h2.6V75.7h-2.6ZM75.20 75.7h2.6V82.0h-2.6ZM77.20 82.0h2.6V83.2h-2.6ZM79.20 82.1h2.6V83.9h-2.6ZM89.20 72.4h2.6V73.6h-2.6ZM93.20 71.6h2.6V80.5h-2.6ZM95.20 80.5h2.6V84.6h-2.6ZM103.20 66.0h2.6V67.2h-2.6ZM105.20 66.2h2.6V67.4h-2.6ZM107.20 66.3h2.6V67.5h-2.6ZM117.20 38.7h2.6V39.9h-2.6ZM121.20 37.8h2.6V47.4h-2.6ZM123.20 47.4h2.6V52.0h-2.6ZM125.20 52.0h2.6V61.1h-2.6ZM129.20 60.8h2.6V62.0h-2.6ZM131.20 60.9h2.6V62.3h-2.6ZM135.20 61.4h2.6V62.6h-2.6ZM143.20 52.9h2.6V54.3h-2.6ZM145.20 54.3h2.6V60.6h-2.6ZM155.20 47.1h2.6V51.8h-2.6ZM161.20 47.4h2.6V60.0h-2.6ZM163.20 60.0h2.6V68.0h-2.6ZM165.20 68.0h2.6V72.8h-2.6ZM167.20 72.8h2.6V74.0h-2.6ZM173.20 67.0h2.6V75.5h-2.6ZM175.20 75.5h2.6V79.4h-2.6ZM179.20 77.8h2.6V79.5h-2.6ZM181.20 79.5h2.6V90.5h-2.6ZM183.20 90.5h2.6V123.3h-2.6ZM185.20 123.3h2.6V133.8h-2.6ZM199.20 95.9h2.6V101.1h-2.6ZM205.20 89.1h2.6V92.2h-2.6ZM207.20 92.2h2.6V97.8h-2.6ZM209.20 97.8h2.6V101.1h-2.6ZM223.20 54.7h2.6V59.3h-2.6ZM225.20 59.3h2.6V67.9h-2.6ZM227.20 67.9h2.6V73.8h-2.6ZM229.20 73.8h2.6V95.7h-2.6ZM231.20 95.7h2.6V143.3h-2.6ZM233.20 143.3h2.6V161.2h-2.6ZM235.20 161.2h2.6V172.5h-2.6ZM237.20 172.5h2.6V184.4h-2.6ZM239.20 184.4h2.6V194.4h-2.6ZM241.20 194.4h2.6V198.4h-2.6ZM243.20 198.4h2.6V201.1h-2.6ZM245.20 201.1h2.6V209.5h-2.6ZM247.20 209.5h2.6V217.6h-2.6ZM249.20 217.6h2.6V223.1h-2.6ZM251.20 223.1h2.6V229.1h-2.6ZM273.20 113.4h2.6V116.3h-2.6ZM279.20 113.2h2.6V115.1h-2.6ZM285.20 103.0h2.6V108.2h-2.6ZM287.20 108.2h2.6V116.6h-2.6ZM293.20 111.0h2.6V112.2h-2.6ZM295.20 111.9h2.6V116.0h-2.6ZM297.20 116.0h2.6V119.2h-2.6ZM299.20 119.2h2.6V128.2h-2.6ZM303.20 125.9h2.6V131.8h-2.6ZM309.20 107.1h2.6V109.8h-2.6ZM311.20 109.8h2.6V116.4h-2.6ZM313.20 116.4h2.6V122.4h-2.6ZM315.20 122.4h2.6V123.6h-2.6ZM317.20 123.5h2.6V126.1h-2.6ZM319.20 126.1h2.6V130.6h-2.6ZM321.20 130.6h2.6V136.6h-2.6ZM325.20 134.8h2.6V138.4h-2.6ZM327.20 138.4h2.6V145.0h-2.6ZM329.20 145.0h2.6V146.2h-2.6ZM331.20 146.0h2.6V149.6h-2.6ZM333.20 149.6h2.6V150.8h-2.6ZM335.20 150.3h2.6V160.7h-2.6ZM337.20 160.7h2.6V163.8h-2.6ZM345.20 148.5h2.6V154.3h-2.6ZM347.20 154.3h2.6V169.4h-2.6ZM349.20 169.4h2.6V186.7h-2.6ZM351.20 186.7h2.6V199.1h-2.6ZM355.20 197.0h2.6V200.7h-2.6ZM357.20 200.7h2.6V213.5h-2.6ZM359.20 213.5h2.6V228.9h-2.6ZM361.20 228.9h2.6V237.1h-2.6ZM363.20 237.1h2.6V245.4h-2.6ZM369.20 237.7h2.6V241.5h-2.6ZM371.20 241.5h2.6V261.1h-2.6ZM373.20 261.1h2.6V276.3h-2.6ZM375.20 276.3h2.6V281.5h-2.6ZM385.20 250.9h2.6V252.2h-2.6ZM387.20 252.2h2.6V257.8h-2.6ZM391.20 253.6h2.6V255.8h-2.6ZM393.20 255.8h2.6V259.8h-2.6ZM405.20 242.5h2.6V250.0h-2.6ZM407.20 250.0h2.6V255.2h-2.6ZM411.20 246.6h2.6V262.4h-2.6ZM413.20 262.4h2.6V269.5h-2.6ZM415.20 269.5h2.6V286.8h-2.6ZM417.20 286.8h2.6V294.2h-2.6ZM419.20 294.2h2.6V304.8h-2.6ZM421.20 304.8h2.6V319.8h-2.6ZM423.20 319.8h2.6V324.9h-2.6ZM433.20 306.5h2.6V311.3h-2.6ZM435.20 311.3h2.6V312.5h-2.6ZM439.20 307.8h2.6V313.7h-2.6ZM443.20 303.8h2.6V305.2h-2.6ZM447.20 302.4h2.6V303.6h-2.6ZM449.20 302.5h2.6V304.5h-2.6ZM451.20 304.5h2.6V309.2h-2.6ZM453.20 309.2h2.6V326.0h-2.6ZM455.20 326.0h2.6V340.2h-2.6ZM457.20 340.2h2.6V384.4h-2.6ZM459.20 384.4h2.6V416.0h-2.6ZM461.20 416.0h2.6V421.1h-2.6ZM463.20 421.1h2.6V427.3h-2.6ZM465.20 427.3h2.6V431.4h-2.6ZM467.20 431.4h2.6V434.6h-2.6ZM475.20 418.6h2.6V423.2h-2.6ZM485.20 375.0h2.6V388.0h-2.6ZM487.20 388.0h2.6V394.8h-2.6ZM499.20 349.5h2.6V350.7h-2.6ZM507.20 321.0h2.6V322.2h-2.6ZM517.20 309.5h2.6V316.4h-2.6ZM519.20 316.4h2.6V326.5h-2.6ZM521.20 326.5h2.6V339.0h-2.6ZM523.20 339.0h2.6V340.2h-2.6ZM533.20 276.7h2.6V278.5h-2.6ZM539.20 270.1h2.6V271.3h-2.6ZM541.20 271.1h2.6V274.6h-2.6ZM543.20 274.6h2.6V275.8h-2.6ZM545.20 274.8h2.6V276.0h-2.6ZM557.20 256.3h2.6V264.0h-2.6ZM561.20 259.6h2.6V260.8h-2.6ZM563.20 259.6h2.6V261.9h-2.6ZM565.20 261.9h2.6V277.6h-2.6ZM567.20 277.6h2.6V282.5h-2.6ZM569.20 282.5h2.6V287.1h-2.6ZM573.20 284.1h2.6V287.3h-2.6ZM575.20 287.3h2.6V292.2h-2.6ZM577.20 292.2h2.6V299.2h-2.6ZM579.20 299.2h2.6V306.4h-2.6ZM593.20 251.1h2.6V257.7h-2.6ZM601.20 231.7h2.6V234.2h-2.6ZM603.20 234.2h2.6V235.4h-2.6ZM605.20 234.6h2.6V239.8h-2.6ZM613.20 219.4h2.6V224.0h-2.6ZM615.20 224.0h2.6V238.8h-2.6ZM617.20 238.8h2.6V241.8h-2.6ZM619.20 241.8h2.6V245.5h-2.6ZM625.20 237.8h2.6V244.8h-2.6ZM627.20 244.8h2.6V247.5h-2.6ZM629.20 247.5h2.6V254.8h-2.6ZM633.20 246.7h2.6V253.3h-2.6ZM635.20 253.3h2.6V259.2h-2.6ZM637.20 259.2h2.6V273.7h-2.6ZM639.20 273.7h2.6V292.9h-2.6ZM641.20 292.9h2.6V294.1h-2.6ZM647.20 284.7h2.6V285.9h-2.6ZM667.20 223.3h2.6V224.5h-2.6ZM669.20 224.3h2.6V225.5h-2.6ZM681.20 185.4h2.6V188.3h-2.6ZM685.20 178.3h2.6V179.5h-2.6ZM687.20 178.8h2.6V183.3h-2.6ZM691.20 180.1h2.6V181.5h-2.6ZM693.20 181.5h2.6V185.5h-2.6ZM697.20 184.1h2.6V187.1h-2.6ZM699.20 187.1h2.6V188.7h-2.6ZM707.20 170.7h2.6V171.9h-2.6ZM709.20 170.9h2.6V183.5h-2.6ZM711.20 183.5h2.6V192.2h-2.6ZM713.20 192.2h2.6V193.4h-2.6ZM719.20 188.2h2.6V197.1h-2.6ZM747.20 108.5h2.6V112.3h-2.6ZM749.20 112.3h2.6V115.9h-2.6ZM757.20 89.1h2.6V90.3h-2.6ZM759.20 89.8h2.6V93.3h-2.6ZM761.20 93.3h2.6V94.5h-2.6ZM763.20 93.5h2.6V102.7h-2.6ZM769.20 101.1h2.6V105.8h-2.6ZM771.20 105.8h2.6V114.4h-2.6ZM785.20 86.9h2.6V88.1h-2.6ZM787.20 87.5h2.6V91.6h-2.6ZM789.20 91.6h2.6V97.0h-2.6ZM795.20 87.3h2.6V91.3h-2.6ZM797.20 91.3h2.6V93.3h-2.6ZM799.20 93.3h2.6V94.5h-2.6ZM805.20 87.8h2.6V90.3h-2.6ZM813.20 82.6h2.6V84.1h-2.6ZM815.20 84.1h2.6V85.3h-2.6ZM817.20 84.9h2.6V86.1h-2.6ZM821.20 83.5h2.6V84.9h-2.6ZM827.20 79.3h2.6V81.2h-2.6ZM829.20 81.2h2.6V83.1h-2.6ZM831.20 83.1h2.6V84.6h-2.6ZM833.20 84.6h2.6V85.8h-2.6ZM835.20 85.1h2.6V88.6h-2.6ZM841.20 84.0h2.6V90.3h-2.6ZM849.20 63.6h2.6V65.4h-2.6ZM851.20 65.4h2.6V74.4h-2.6ZM853.20 74.4h2.6V85.0h-2.6ZM867.20 63.3h2.6V64.6h-2.6ZM875.20 53.0h2.6V57.2h-2.6ZM877.20 57.2h2.6V69.0h-2.6ZM879.20 69.0h2.6V78.0h-2.6ZM883.20 76.0h2.6V81.9h-2.6ZM885.20 81.9h2.6V98.5h-2.6ZM887.20 98.5h2.6V107.3h-2.6ZM889.20 107.3h2.6V112.7h-2.6ZM893.20 111.2h2.6V113.2h-2.6ZM895.20 113.2h2.6V121.2h-2.6ZM897.20 121.2h2.6V139.4h-2.6ZM899.20 139.4h2.6V148.1h-2.6ZM901.20 148.1h2.6V154.9h-2.6ZM903.20 154.9h2.6V163.1h-2.6ZM905.20 163.1h2.6V168.6h-2.6ZM915.20 141.8h2.6V145.1h-2.6ZM917.20 145.1h2.6V157.4h-2.6ZM919.20 157.4h2.6V181.8h-2.6ZM921.20 181.8h2.6V195.4h-2.6ZM943.20 136.1h2.6V137.3h-2.6ZM947.20 135.2h2.6V139.3h-2.6ZM951.20 138.6h2.6V142.0h-2.6ZM953.20 142.0h2.6V146.7h-2.6ZM955.20 146.7h2.6V147.9h-2.6ZM963.20 134.0h2.6V137.1h-2.6ZM969.20 119.7h2.6V128.6h-2.6ZM971.20 128.6h2.6V136.0h-2.6ZM973.20 136.0h2.6V137.2h-2.6ZM975.20 136.7h2.6V138.7h-2.6ZM977.20 138.7h2.6V143.9h-2.6ZM981.20 142.4h2.6V155.9h-2.6ZM983.20 155.9h2.6V175.4h-2.6ZM985.20 175.4h2.6V183.6h-2.6ZM987.20 183.6h2.6V199.5h-2.6ZM989.20 199.5h2.6V210.7h-2.6ZM991.20 210.7h2.6V217.1h-2.6ZM993.20 217.1h2.6V218.3h-2.6ZM995.20 218.3h2.6V228.9h-2.6ZM997.20 228.9h2.6V242.2h-2.6ZM999.20 242.2h2.6V245.7h-2.6ZM1001.20 245.7h2.6V251.9h-2.6ZM1009.20 240.1h2.6V244.3h-2.6ZM1011.20 244.3h2.6V248.9h-2.6ZM1013.20 248.9h2.6V254.3h-2.6ZM1015.20 254.3h2.6V263.3h-2.6ZM1017.20 263.3h2.6V271.0h-2.6ZM1019.20 271.0h2.6V279.8h-2.6ZM1035.20 242.8h2.6V244.4h-2.6ZM1045.20 236.3h2.6V238.6h-2.6ZM1047.20 238.6h2.6V246.8h-2.6ZM1049.20 246.8h2.6V250.3h-2.6ZM1053.20 244.1h2.6V247.3h-2.6ZM1055.20 247.3h2.6V259.1h-2.6ZM1057.20 259.1h2.6V279.5h-2.6ZM1059.20 279.5h2.6V317.4h-2.6ZM1061.20 317.4h2.6V349.9h-2.6ZM1063.20 349.9h2.6V352.8h-2.6ZM1093.20 234.2h2.6V235.5h-2.6ZM1095.20 235.5h2.6V239.0h-2.6ZM1097.20 239.0h2.6V240.2h-2.6ZM1099.20 239.8h2.6V247.3h-2.6ZM1117.20 177.9h2.6V180.9h-2.6Z" fill="#93473b" stroke="#4a3430" stroke-width="0.6"/><path d="M68.0 57.3L70.0 43.7L72.0 38.7L74.0 38.9L76.0 37.8L78.0 47.4L80.0 52.0L82.0 61.1L84.0 60.8L86.0 60.9L88.0 62.3L90.0 61.4L92.0 61.6L94.0 57.9L96.0 54.9L98.0 52.9L100.0 54.3L102.0 60.6L104.0 54.7L106.0 53.1L108.0 48.3L110.0 47.1L112.0 51.8L114.0 51.2L116.0 47.4L118.0 60.0L120.0 68.0L122.0 72.8L124.0 73.0L126.0 68.8L128.0 67.0L130.0 75.5L132.0 79.4L134.0 77.8L136.0 79.5L138.0 90.5L140.0 123.3L142.0 133.8L144.0 133.3L146.0 122.6L148.0 116.4L150.0 107.8L152.0 99.2L154.0 95.9L156.0 101.1L158.0 93.1L160.0 89.1L162.0 92.2L164.0 97.8L166.0 101.1L168.0 97.7L170.0 91.7L172.0 85.0L174.0 68.4L176.0 54.9L178.0 54.7L180.0 59.3L182.0 67.9L184.0 73.8L186.0 95.7L188.0 143.3L190.0 161.2L192.0 172.5L194.0 184.4L196.0 194.4L198.0 198.4L200.0 201.1L202.0 209.5L204.0 217.6L206.0 223.1L208.0 229.1L210.0 222.3L212.0 211.8L214.0 185.8L216.0 168.8L218.0 159.7L220.0 139.4L222.0 123.2L224.0 117.1L226.0 114.1L228.0 113.4L230.0 116.3L232.0 114.0L234.0 113.2L236.0 115.1L238.0 109.9L240.0 103.0L242.0 108.2L244.0 116.6L246.0 115.7L248.0 111.0L250.0 111.9L252.0 116.0L254.0 119.2L256.0 128.2L258.0 125.9L260.0 131.8L262.0 117.4L264.0 107.1L266.0 109.8L268.0 116.4L270.0 122.4L272.0 123.5L274.0 126.1L276.0 130.6L278.0 136.6L280.0 134.8L282.0 138.4L284.0 145.0L286.0 146.0L288.0 149.6L290.0 150.3L292.0 160.7L294.0 163.8L296.0 158.5L298.0 153.8L300.0 148.5L302.0 154.3L304.0 169.4L306.0 186.7L308.0 199.1L310.0 197.0L312.0 200.7L314.0 213.5L316.0 228.9L318.0 237.1L320.0 245.4L322.0 241.7L324.0 237.7L326.0 241.5L328.0 261.1L330.0 276.3L332.0 281.5L334.0 271.5L336.0 265.2L338.0 262.1L340.0 250.9L342.0 252.2L344.0 257.8L346.0 253.6L348.0 255.8L350.0 259.8L352.0 257.2L354.0 255.7L356.0 243.3L358.0 242.5L360.0 242.5L362.0 250.0L364.0 255.2L366.0 246.6L368.0 262.4L370.0 269.5L372.0 286.8L374.0 294.2L376.0 304.8L378.0 319.8L380.0 324.9L382.0 314.5L384.0 311.0L386.0 307.6L388.0 306.5L390.0 311.3L392.0 312.0L394.0 307.8L396.0 313.7L398.0 303.8L400.0 305.2L402.0 302.4L404.0 302.5L406.0 304.5L408.0 309.2L410.0 326.0L412.0 340.2L414.0 384.4L416.0 416.0L418.0 421.1L420.0 427.3L422.0 431.4L424.0 434.6L426.0 426.3L428.0 424.1L430.0 418.6L432.0 423.2L434.0 411.7L436.0 400.3L438.0 389.0L440.0 375.0L442.0 388.0L444.0 394.8L446.0 390.4L448.0 372.4L450.0 363.8L452.0 353.1L454.0 349.5L456.0 350.1L458.0 342.2L460.0 334.4L462.0 321.0L464.0 321.1L466.0 320.6L468.0 319.7L470.0 313.9L472.0 309.5L474.0 316.4L476.0 326.5L478.0 339.0L480.0 339.3L482.0 322.8L484.0 297.6L486.0 287.9L488.0 276.7L490.0 278.5L492.0 275.2L494.0 270.1L496.0 271.1L498.0 274.6L500.0 274.8L502.0 275.2L504.0 268.5L506.0 264.2L508.0 259.5L510.0 258.7L512.0 256.3L514.0 264.0L516.0 259.6L518.0 259.6L520.0 261.9L522.0 277.6L524.0 282.5L526.0 287.1L528.0 284.1L530.0 287.3L532.0 292.2L534.0 299.2L536.0 306.4L538.0 303.5L540.0 294.2L542.0 285.9L544.0 275.6L546.0 257.3L548.0 251.1L550.0 257.7L552.0 252.6L554.0 240.7L556.0 231.7L558.0 234.2L560.0 234.6L562.0 239.8L564.0 237.4L566.0 228.9L568.0 219.4L570.0 224.0L572.0 238.8L574.0 241.8L576.0 245.5L578.0 243.1L580.0 237.8L582.0 244.8L584.0 247.5L586.0 254.8L588.0 246.7L590.0 253.3L592.0 259.2L594.0 273.7L596.0 292.9L598.0 293.5L600.0 286.3L602.0 284.7L604.0 285.5L606.0 280.1L608.0 277.8L610.0 267.8L612.0 254.7L614.0 246.7L616.0 245.7L618.0 241.3L620.0 236.2L622.0 223.3L624.0 224.3L626.0 224.6L628.0 218.5L630.0 211.5L632.0 208.9L634.0 191.4L636.0 185.4L638.0 188.3L640.0 178.3L642.0 178.8L644.0 183.3L646.0 180.1L648.0 181.5L650.0 185.5L652.0 184.1L654.0 187.1L656.0 188.7L658.0 185.2L660.0 178.6L662.0 170.7L664.0 170.9L666.0 183.5L668.0 192.2L670.0 193.3L672.0 189.2L674.0 188.2L676.0 197.1L678.0 195.0L680.0 190.1L682.0 169.7L684.0 164.0L686.0 154.8L688.0 147.2L690.0 135.1L692.0 132.8L694.0 131.9L696.0 120.8L698.0 120.3L700.0 114.4L702.0 108.5L704.0 112.3L706.0 115.9L708.0 99.9L710.0 91.8L712.0 89.1L714.0 89.8L716.0 93.3L718.0 93.5L720.0 102.7L722.0 102.0L724.0 101.1L726.0 105.8L728.0 114.4L730.0 113.7L732.0 113.2L734.0 110.1L736.0 103.8L738.0 99.1L740.0 86.9L742.0 87.5L744.0 91.6L746.0 97.0L748.0 89.9L750.0 87.3L752.0 91.3L754.0 93.3L756.0 94.0L758.0 91.1L760.0 87.8L762.0 90.3L764.0 88.5L766.0 83.4L768.0 82.6L770.0 84.1L772.0 84.9L774.0 85.1L776.0 83.5L778.0 84.9L780.0 84.5L782.0 79.3L784.0 81.2L786.0 83.1L788.0 84.6L790.0 85.1L792.0 88.6L794.0 87.0L796.0 84.0L798.0 90.3L800.0 83.6L802.0 69.1L804.0 63.6L806.0 65.4L808.0 74.4L810.0 85.0L812.0 82.7L814.0 76.7L816.0 71.8L818.0 69.7L820.0 66.0L822.0 63.3L824.0 64.6L826.0 61.5L828.0 55.2L830.0 53.0L832.0 57.2L834.0 69.0L836.0 78.0L838.0 76.0L840.0 81.9L842.0 98.5L844.0 107.3L846.0 112.7L848.0 111.2L850.0 113.2L852.0 121.2L854.0 139.4L856.0 148.1L858.0 154.9L860.0 163.1L862.0 168.6L864.0 160.1L866.0 157.7L868.0 150.7L870.0 141.8L872.0 145.1L874.0 157.4L876.0 181.8L878.0 195.4L880.0 193.0L882.0 183.9L884.0 177.1L886.0 167.8L888.0 164.0L890.0 162.1L892.0 153.8L894.0 149.6L896.0 140.4L898.0 136.1L900.0 137.0L902.0 135.2L904.0 139.3L906.0 138.6L908.0 142.0L910.0 146.7L912.0 147.9L914.0 145.4L916.0 143.0L918.0 134.0L920.0 137.1L922.0 126.8L924.0 119.7L926.0 128.6L928.0 136.0L930.0 136.7L932.0 138.7L934.0 143.9L936.0 142.4L938.0 155.9L940.0 175.4L942.0 183.6L944.0 199.5L946.0 210.7L948.0 217.1L950.0 218.3L952.0 228.9L954.0 242.2L956.0 245.7L958.0 251.9L960.0 251.3L962.0 246.1L964.0 240.1L966.0 244.3L968.0 248.9L970.0 254.3L972.0 263.3L974.0 271.0L976.0 279.8L978.0 274.8L980.0 268.0L982.0 264.6L984.0 259.3L986.0 253.9L988.0 249.3L990.0 242.8L992.0 244.4L994.0 242.4L996.0 241.1L998.0 238.6L1000.0 236.3L1002.0 238.6L1004.0 246.8L1006.0 250.3L1008.0 244.1L1010.0 247.3L1012.0 259.1L1014.0 279.5L1016.0 317.4L1018.0 349.9L1020.0 352.8L1022.0 330.4L1024.0 305.8L1026.0 287.8L1028.0 280.1L1030.0 276.3L1032.0 276.0L1034.0 272.4L1036.0 265.8L1038.0 258.3L1040.0 253.8L1042.0 247.5L1044.0 239.2L1046.0 236.2L1048.0 234.2L1050.0 235.5L1052.0 239.0L1054.0 239.8L1056.0 247.3L1058.0 242.2L1060.0 241.4L1062.0 227.9L1064.0 215.7L1066.0 193.2L1068.0 186.1L1070.0 182.3L1072.0 177.9L1074.0 180.9L1076.0 177.7L1078.0 173.1L1080.0 160.9L1082.0 149.6L1084.0 141.3L1086.0 130.9L1088.0 125.4L1090.0 117.0L1092.0 114.3L1094.0 101.1L1096.0 96.8" stroke="#5ad8ec" stroke-width="1.3" fill="none" stroke-linejoin="round"/><path d="M68.0 96.7L71.3 86.7L78.0 81.7L84.7 76.7L91.3 75.0L98.0 80.0L104.7 73.3L111.3 66.7L118.0 50.0L124.7 46.7L131.3 56.7L138.0 56.7L144.7 56.7L153.0 51.7L160.0 51.7L163.3 58.3L166.7 65.0L170.0 68.3L173.3 71.7L176.7 73.3L178.3 70.0L180.0 71.7L183.3 96.7L186.7 116.7L190.0 125.0L193.3 123.3L196.7 113.3L200.0 103.3L203.3 101.7L206.7 100.0L210.0 100.0L213.3 103.3L216.7 90.0L220.0 80.0L223.3 76.7L226.7 75.0L228.3 80.0L230.0 96.7L233.3 123.3L236.7 136.7L240.0 146.7L244.7 206.7L249.7 211.7L254.7 206.7L258.0 186.7L261.3 176.7L266.3 160.0L269.7 130.0L274.7 116.7L284.7 115.0L294.7 118.3L301.3 123.3L310.0 120.0L320.0 126.7L330.0 131.7L335.0 140.0L338.3 166.7L343.3 156.7L348.3 173.3L353.3 196.7L358.3 213.3L363.3 233.3L368.3 246.7L373.3 260.0L378.3 263.3L386.7 260.0L396.7 246.7L400.0 246.7L411.7 253.3L420.0 300.0L424.4 304.4L433.3 306.7L440.0 302.2L448.9 302.2L453.3 351.1L462.2 371.1L466.7 395.6L468.9 428.9L473.3 424.4L477.8 408.9L482.2 402.2L488.9 393.3L491.1 388.9L493.3 366.7L500.0 362.2L506.7 333.3L517.8 322.2L524.4 313.3L526.7 300.0L531.1 297.3L535.0 295.3L537.0 273.9L540.9 268.1L544.7 277.8L550.6 264.2L556.4 256.4L562.3 258.4L564.2 273.9L568.1 285.6L573.9 289.5L577.8 297.3L581.7 299.2L585.6 285.6L589.5 270.0L593.4 260.3L597.3 258.4L599.2 244.7L605.1 229.2L612.8 231.1L616.7 244.7L620.6 240.9L624.5 248.6L628.4 254.5L634.2 258.4L636.2 273.9L644.0 273.9L645.9 285.6L647.9 297.3L651.8 285.6L655.6 268.1L660.1 258.4L666.7 233.3L680.0 190.0L686.7 173.3L693.3 176.7L700.0 183.3L713.3 183.3L723.3 180.0L728.3 163.3L733.3 146.7L738.3 136.7L743.3 123.3L750.0 120.0L755.0 103.3L760.0 100.0L766.7 96.7L773.3 106.7L780.0 103.3L790.0 100.0L800.0 93.3L810.0 90.0L820.0 86.7L830.0 83.3L840.0 86.7L845.0 83.3L853.3 76.7L860.0 66.7L866.7 70.0L873.3 60.0L880.0 63.3L883.3 80.0L890.0 96.7L896.7 116.7L903.3 140.0L910.0 153.3L916.7 160.0L923.3 170.0L930.0 173.3L936.7 160.0L943.3 146.7L950.0 143.3L953.3 146.7L956.7 143.3L960.0 140.0L963.3 136.7L966.7 126.7L970.0 126.7L973.3 136.7L976.7 140.0L980.0 140.0L983.3 156.7L986.7 170.0L990.0 180.0L993.3 200.0L995.0 213.3L1000.0 233.3L1006.7 253.3L1010.0 240.0L1013.3 266.7L1020.0 276.7L1030.0 266.7L1036.7 253.3L1043.3 246.7L1050.0 256.7L1056.7 256.7L1060.0 293.3L1066.7 306.7L1073.3 310.0L1076.7 296.7L1083.3 263.3L1090.0 250.0L1096.7 246.7L1106.7 240.0L1110.0 206.7L1116.7 196.7L1123.3 173.3L1126.7 153.3L1133.3 143.3L1138.3 123.3L1140.0 121.7" stroke="#2828a8" stroke-width="1.3" fill="none" stroke-linejoin="round"/></g><g clip-path="url(#cb)"><path d="M68.5 573.5V572.5M70.5 573.5V556.7M72.5 573.5V556.8M74.5 573.5V557.3M76.5 573.5V558.0M78.5 573.5V558.9M80.5 573.5V560.1M82.5 573.5V561.5M84.5 573.5V563.0M86.5 573.5V564.8M88.5 573.5V566.7M90.5 573.5V568.6M92.5 573.5V570.7M94.5 573.5V572.5M96.5 573.5V573.6M98.5 573.5V574.6M100.5 573.5V575.2M102.5 573.5V575.3M104.5 573.5V575.1M106.5 573.5V574.8M108.5 573.5V574.3M110.5 573.5V573.8M111.5 573.5V572.9M113.5 573.5V568.9M115.5 573.5V565.3M117.5 573.5V563.5M119.5 573.5V563.8M121.5 573.5V566.3M123.5 573.5V570.4M126.5 573.5V574.2M128.5 573.5V577.7M130.5 573.5V581.4M132.5 573.5V583.9M134.5 573.5V585.0M136.5 573.5V584.9M138.5 573.5V584.3M140.5 573.5V583.4M142.5 573.5V582.1M144.5 573.5V580.5M146.5 573.5V578.7M148.5 573.5V576.7M150.5 573.5V574.6M161.5 573.5V573.9M163.5 573.5V576.5M165.5 573.5V578.8M167.5 573.5V579.9M169.5 573.5V579.7M171.5 573.5V578.1M173.5 573.5V575.5M178.5 573.5V574.9M180.5 573.5V582.0M182.5 573.5V589.4M184.5 573.5V594.5M186.5 573.5V596.6M188.5 573.5V595.9M190.5 573.5V592.9M192.5 573.5V588.1M194.5 573.5V581.8M196.5 573.5V574.9M196.5 573.5V572.7M198.5 573.5V568.5M200.5 573.5V564.3M202.5 573.5V561.3M204.5 573.5V560.0M206.5 573.5V560.5M208.5 573.5V562.2M210.5 573.5V565.0M212.5 573.5V568.7M214.5 573.5V572.7M216.5 573.5V572.5M218.5 573.5V565.9M220.5 573.5V559.9M222.5 573.5V556.9M224.5 573.5V557.8M226.5 573.5V563.4M228.5 573.5V571.9M229.5 573.5V576.0M231.5 573.5V588.8M233.5 573.5V601.9M235.5 573.5V611.1M237.5 573.5V614.9M239.5 573.5V614.5M241.5 573.5V612.5M243.5 573.5V609.2M245.5 573.5V604.6M247.5 573.5V598.9M249.5 573.5V592.3M251.5 573.5V585.1M253.5 573.5V577.4M256.5 573.5V571.0M258.5 573.5V561.7M260.5 573.5V550.9M262.5 573.5V541.9M264.5 573.5V535.4M266.5 573.5V532.1M268.5 573.5V531.8M270.5 573.5V532.7M272.5 573.5V534.7M274.5 573.5V537.4M276.5 573.5V541.1M278.5 573.5V545.5M280.5 573.5V550.5M282.5 573.5V556.0M284.5 573.5V562.0M286.5 573.5V568.2M291.5 573.5V574.0M293.5 573.5V576.0M295.5 573.5V578.3M297.5 573.5V580.1M299.5 573.5V581.3M301.5 573.5V581.7M303.5 573.5V580.8M305.5 573.5V578.3M307.5 573.5V574.8M300.5 573.5V574.1M302.5 573.5V581.5M304.5 573.5V582.9M306.5 573.5V576.5M318.5 573.5V573.9M320.5 573.5V575.2M322.5 573.5V576.8M324.5 573.5V578.2M326.5 573.5V579.2M328.5 573.5V579.8M330.5 573.5V580.0M332.5 573.5V579.0M334.5 573.5V576.9M336.5 573.5V574.0M336.5 573.5V574.6M338.5 573.5V576.6M340.5 573.5V579.6M342.5 573.5V582.4M344.5 573.5V585.0M346.5 573.5V587.2M348.5 573.5V589.1M350.5 573.5V590.4M352.5 573.5V591.3M354.5 573.5V591.7M356.5 573.5V591.6M358.5 573.5V591.2M360.5 573.5V590.5M362.5 573.5V589.6M364.5 573.5V588.4M366.5 573.5V587.0M368.5 573.5V585.4M370.5 573.5V583.6M372.5 573.5V581.6M374.5 573.5V579.5M376.5 573.5V577.3M378.5 573.5V575.0M381.5 573.5V572.3M383.5 573.5V570.1M385.5 573.5V566.7M387.5 573.5V563.6M389.5 573.5V560.7M391.5 573.5V558.3M393.5 573.5V556.2M395.5 573.5V554.7M397.5 573.5V553.7M399.5 573.5V553.3M401.5 573.5V554.0M403.5 573.5V556.6M405.5 573.5V560.8M407.5 573.5V566.3M409.5 573.5V572.3M413.5 573.5V574.5M415.5 573.5V581.0M417.5 573.5V586.8M419.5 573.5V589.8M421.5 573.5V589.8M423.5 573.5V588.7M425.5 573.5V586.8M427.5 573.5V584.2M429.5 573.5V581.0M431.5 573.5V577.4M433.5 573.5V574.5M433.5 573.5V573.0M435.5 573.5V569.6M437.5 573.5V566.6M439.5 573.5V565.1M441.5 573.5V565.1M443.5 573.5V565.6M445.5 573.5V566.6M447.5 573.5V568.0M449.5 573.5V569.6M451.5 573.5V571.5M453.5 573.5V573.0M455.5 573.5V575.8M457.5 573.5V587.6M459.5 573.5V599.6M461.5 573.5V608.0M463.5 573.5V611.6M465.5 573.5V610.4M467.5 573.5V605.5M469.5 573.5V597.5M471.5 573.5V587.2M473.5 573.5V575.8M475.5 573.5V571.9M477.5 573.5V567.9M479.5 573.5V562.6M481.5 573.5V557.7M483.5 573.5V553.6M485.5 573.5V550.3M487.5 573.5V548.0M489.5 573.5V546.8M491.5 573.5V546.7M493.5 573.5V547.0M495.5 573.5V547.7M497.5 573.5V548.7M499.5 573.5V549.9M501.5 573.5V551.5M503.5 573.5V553.3M505.5 573.5V555.4M507.5 573.5V557.7M509.5 573.5V560.2M511.5 573.5V562.9M513.5 573.5V565.7M515.5 573.5V568.6M517.5 573.5V571.5M520.5 573.5V574.0M522.5 573.5V580.1M524.5 573.5V581.3M526.5 573.5V576.0M528.5 573.5V572.9M530.5 573.5V567.5M532.5 573.5V563.8M534.5 573.5V563.6M536.5 573.5V565.8M538.5 573.5V569.6M545.5 573.5V573.7M547.5 573.5V576.1M549.5 573.5V576.5M551.5 573.5V574.5M556.5 573.5V574.7M558.5 573.5V577.6M560.5 573.5V581.6M562.5 573.5V585.2M564.5 573.5V588.2M566.5 573.5V590.7M568.5 573.5V592.4M570.5 573.5V593.2M572.5 573.5V593.2M574.5 573.5V592.4M576.5 573.5V590.7M578.5 573.5V588.2M580.5 573.5V585.2M582.5 573.5V581.6M584.5 573.5V577.6M586.5 573.5V574.7M586.5 573.5V572.6M588.5 573.5V570.0M590.5 573.5V566.6M592.5 573.5V563.7M594.5 573.5V561.2M596.5 573.5V559.5M598.5 573.5V558.5M600.5 573.5V558.4M602.5 573.5V559.1M604.5 573.5V560.6M606.5 573.5V562.8M608.5 573.5V565.6M610.5 573.5V568.8M612.5 573.5V572.3M615.5 573.5V574.9M617.5 573.5V576.2M619.5 573.5V578.9M621.5 573.5V581.5M623.5 573.5V584.0M625.5 573.5V586.4M627.5 573.5V588.5M629.5 573.5V590.5M631.5 573.5V592.2M633.5 573.5V593.7M635.5 573.5V594.9M637.5 573.5V595.8M639.5 573.5V596.4M641.5 573.5V596.6M643.5 573.5V595.9M645.5 573.5V592.2M647.5 573.5V585.9M649.5 573.5V577.8M651.5 573.5V572.1M653.5 573.5V564.8M655.5 573.5V557.4M657.5 573.5V552.2M659.5 573.5V550.0M661.5 573.5V550.1M663.5 573.5V550.4M665.5 573.5V551.0M667.5 573.5V551.9M669.5 573.5V552.9M671.5 573.5V554.2M673.5 573.5V555.8M675.5 573.5V557.5M677.5 573.5V559.4M679.5 573.5V561.4M681.5 573.5V563.6M683.5 573.5V565.8M685.5 573.5V568.2M687.5 573.5V570.6M689.5 573.5V572.1M691.5 573.5V574.3M693.5 573.5V578.3M695.5 573.5V582.5M697.5 573.5V585.4M699.5 573.5V586.6M701.5 573.5V586.6M703.5 573.5V586.4M705.5 573.5V585.9M707.5 573.5V585.3M709.5 573.5V584.6M711.5 573.5V583.7M713.5 573.5V582.6M715.5 573.5V581.4M717.5 573.5V580.2M719.5 573.5V578.8M721.5 573.5V577.3M723.5 573.5V575.8M725.5 573.5V574.3M728.5 573.5V572.8M730.5 573.5V569.1M732.5 573.5V565.4M734.5 573.5V562.8M736.5 573.5V561.7M738.5 573.5V561.7M740.5 573.5V562.0M742.5 573.5V562.5M744.5 573.5V563.2M746.5 573.5V564.1M748.5 573.5V565.1M750.5 573.5V566.3M752.5 573.5V567.7M754.5 573.5V569.1M756.5 573.5V570.6M758.5 573.5V572.2M761.5 573.5V574.4M763.5 573.5V577.4M765.5 573.5V581.1M767.5 573.5V584.2M769.5 573.5V586.6M771.5 573.5V588.0M773.5 573.5V588.3M775.5 573.5V586.1M777.5 573.5V581.3M779.5 573.5V574.7M793.5 573.5V573.8M795.5 573.5V575.7M797.5 573.5V577.4M799.5 573.5V578.3M801.5 573.5V578.1M803.5 573.5V576.9M805.5 573.5V575.0M813.5 573.5V573.8M815.5 573.5V574.4M817.5 573.5V575.3M819.5 573.5V576.1M821.5 573.5V576.8M823.5 573.5V577.4M825.5 573.5V577.9M827.5 573.5V578.2M829.5 573.5V578.3M831.5 573.5V578.3M833.5 573.5V578.1M835.5 573.5V577.7M837.5 573.5V577.2M839.5 573.5V576.6M841.5 573.5V575.8M843.5 573.5V575.0M845.5 573.5V574.1M860.5 573.5V573.1M862.5 573.5V571.4M864.5 573.5V569.5M866.5 573.5V568.0M868.5 573.5V567.0M870.5 573.5V566.7M872.5 573.5V567.0M874.5 573.5V568.0M876.5 573.5V569.5M878.5 573.5V571.4M880.5 573.5V573.1M880.5 573.5V574.8M882.5 573.5V581.4M884.5 573.5V588.2M886.5 573.5V593.0M888.5 573.5V595.0M890.5 573.5V594.9M892.5 573.5V594.4M894.5 573.5V593.7M896.5 573.5V592.6M898.5 573.5V591.2M900.5 573.5V589.5M902.5 573.5V587.5M904.5 573.5V585.4M906.5 573.5V583.1M908.5 573.5V580.6M910.5 573.5V578.0M912.5 573.5V575.3M930.5 573.5V572.4M932.5 573.5V569.2M934.5 573.5V565.1M936.5 573.5V561.5M938.5 573.5V558.5M940.5 573.5V556.4M942.5 573.5V555.2M944.5 573.5V555.1M946.5 573.5V555.9M948.5 573.5V557.7M950.5 573.5V560.4M952.5 573.5V563.8M954.5 573.5V567.8M956.5 573.5V572.0M960.5 573.5V573.1M962.5 573.5V569.5M964.5 573.5V567.0M966.5 573.5V567.0M968.5 573.5V569.5M970.5 573.5V573.1M976.5 573.5V575.2M978.5 573.5V580.1M980.5 573.5V586.3M982.5 573.5V591.8M984.5 573.5V596.3M986.5 573.5V599.5M988.5 573.5V601.3M990.5 573.5V601.6M992.5 573.5V601.1M994.5 573.5V599.8M996.5 573.5V597.9M998.5 573.5V595.4M1000.5 573.5V592.3M1002.5 573.5V588.8M1004.5 573.5V585.0M1006.5 573.5V580.8M1008.5 573.5V576.4M1020.5 573.5V572.3M1022.5 573.5V569.3M1024.5 573.5V565.3M1026.5 573.5V561.6M1028.5 573.5V558.5M1030.5 573.5V556.0M1032.5 573.5V554.3M1034.5 573.5V553.4M1036.5 573.5V553.4M1038.5 573.5V554.3M1040.5 573.5V556.0M1042.5 573.5V558.5M1044.5 573.5V561.6M1046.5 573.5V565.3M1048.5 573.5V569.3M1050.5 573.5V572.3M1053.5 573.5V575.1M1055.5 573.5V581.7M1057.5 573.5V589.1M1059.5 573.5V594.9M1061.5 573.5V598.7M1063.5 573.5V600.0M1065.5 573.5V597.1M1067.5 573.5V589.1M1069.5 573.5V577.6M1071.5 573.5V572.4M1073.5 573.5V569.7M1075.5 573.5V566.0M1077.5 573.5V562.6M1079.5 573.5V559.8M1081.5 573.5V557.5M1083.5 573.5V555.9M1085.5 573.5V555.1M1087.5 573.5V555.1M1089.5 573.5V556.1M1091.5 573.5V558.1M1093.5 573.5V560.9M1095.5 573.5V564.5M1097.5 573.5V568.5M1099.5 573.5V572.4M1106.5 573.5V571.7M1108.5 573.5V566.0M1110.5 573.5V560.0M1112.5 573.5V556.7M1114.5 573.5V555.3M1116.5 573.5V555.0M1118.5 573.5V556.0M1120.5 573.5V558.3M1122.5 573.5V561.0M1124.5 573.5V562.0M1126.5 573.5V561.3M1128.5 573.5V561.0M1130.5 573.5V561.7M1132.5 573.5V562.0M1134.5 573.5V562.3M1136.5 573.5V562.7M1138.5 573.5V562.7M1140.5 573.5V563.3" stroke="#c95aa9" stroke-width="1.5" fill="none"/><path d="M68.0 596.7C69.1 594.4 72.4 587.8 74.7 583.3C76.9 578.9 79.1 573.1 81.3 570.0C83.6 566.9 85.8 566.1 88.0 565.0C90.2 563.9 91.3 563.9 94.7 563.3C98.0 562.8 104.1 563.1 108.0 561.7C111.9 560.3 114.7 556.9 118.0 555.0C121.3 553.1 124.7 549.7 128.0 550.0C131.3 550.3 134.7 554.4 138.0 556.7C141.3 558.9 144.7 561.7 148.0 563.3C151.3 565.0 154.7 565.0 158.0 566.7C161.3 568.3 164.7 571.1 168.0 573.3C171.3 575.6 174.7 576.1 178.0 580.0C181.3 583.9 184.9 591.7 188.0 596.7C191.1 601.7 194.1 608.3 196.3 610.0C198.6 611.7 198.8 608.9 201.3 606.7C203.8 604.4 208.0 601.1 211.3 596.7C214.7 592.2 218.6 584.7 221.3 580.0C224.1 575.3 226.3 570.0 228.0 568.3C229.7 566.7 229.7 565.8 231.3 570.0C233.0 574.2 235.8 584.4 238.0 593.3C240.2 602.2 242.4 614.7 244.7 623.3C246.9 631.9 249.4 641.1 251.3 645.0C253.3 648.9 254.7 647.5 256.3 646.7C258.0 645.8 259.4 645.6 261.3 640.0C263.3 634.4 266.1 622.2 268.0 613.3C269.9 604.4 271.3 595.0 273.0 586.7C274.7 578.3 276.1 569.2 278.0 563.3C279.9 557.5 282.4 553.9 284.7 551.7C286.9 549.4 288.6 549.2 291.3 550.0C294.1 550.8 298.8 555.0 301.3 556.7C303.9 558.3 304.7 558.9 306.7 560.0C308.7 561.1 311.1 562.5 313.3 563.3C315.6 564.2 317.8 564.4 320.0 565.0C322.2 565.6 324.4 565.3 326.7 566.7C328.9 568.1 331.1 571.1 333.3 573.3C335.6 575.6 337.8 576.7 340.0 580.0C342.2 583.3 344.4 588.9 346.7 593.3C348.9 597.8 351.1 602.2 353.3 606.7C355.6 611.1 357.8 615.6 360.0 620.0C362.2 624.4 363.9 630.0 366.7 633.3C369.4 636.7 373.9 638.6 376.7 640.0C379.4 641.4 381.1 642.8 383.3 641.7C385.6 640.6 387.8 637.5 390.0 633.3C392.2 629.2 394.4 621.7 396.7 616.7C398.9 611.7 400.8 606.7 403.3 603.3C405.8 600.0 409.4 597.2 411.7 596.7C413.9 596.1 414.7 597.8 416.7 600.0C418.6 602.2 421.1 607.2 423.3 610.0C425.6 612.8 428.1 615.3 430.0 616.7C431.9 618.1 433.3 618.9 435.0 618.3C436.7 617.8 438.1 615.3 440.0 613.3C441.9 611.4 444.4 608.3 446.7 606.7C448.9 605.0 451.4 602.8 453.3 603.3C455.3 603.9 456.7 605.6 458.3 610.0C460.0 614.4 461.4 622.8 463.3 630.0C465.3 637.2 468.1 648.1 470.0 653.3C471.9 658.6 473.3 661.1 475.0 661.7C476.7 662.2 478.1 661.4 480.0 656.7C481.9 651.9 484.4 641.1 486.7 633.3C488.9 625.6 491.1 617.8 493.3 610.0C495.6 602.2 497.8 593.9 500.0 586.7C502.2 579.4 504.4 572.8 506.7 566.7C508.9 560.6 511.1 554.2 513.3 550.0C515.6 545.8 517.8 543.3 520.0 541.7C522.2 540.0 524.4 540.8 526.7 540.0C528.9 539.2 531.1 538.3 533.3 536.7C535.6 535.0 537.8 531.7 540.0 530.0C542.2 528.3 544.4 527.2 546.7 526.7C548.9 526.1 551.1 525.6 553.3 526.7C555.6 527.8 557.8 530.6 560.0 533.3C562.2 536.1 564.4 539.4 566.7 543.3C568.9 547.2 571.1 552.2 573.3 556.7C575.6 561.1 577.8 566.9 580.0 570.0C582.2 573.1 584.4 576.1 586.7 575.0C588.9 573.9 591.1 566.9 593.3 563.3C595.6 559.7 597.8 556.4 600.0 553.3C602.2 550.3 604.4 547.2 606.7 545.0C608.9 542.8 611.1 540.6 613.3 540.0C615.6 539.4 617.8 540.0 620.0 541.7C622.2 543.3 624.4 546.9 626.7 550.0C628.9 553.1 631.1 556.1 633.3 560.0C635.6 563.9 637.8 568.3 640.0 573.3C642.2 578.3 644.7 586.4 646.7 590.0C648.6 593.6 650.0 595.6 651.7 595.0C653.3 594.4 654.7 591.4 656.7 586.7C658.6 581.9 661.1 572.2 663.3 566.7C665.6 561.1 667.2 558.3 670.0 553.3C672.8 548.3 676.7 541.7 680.0 536.7C683.3 531.7 687.2 525.6 690.0 523.3C692.8 521.1 694.4 522.2 696.7 523.3C698.9 524.4 700.6 526.7 703.3 530.0C706.1 533.3 710.6 540.0 713.3 543.3C716.1 546.7 718.1 548.1 720.0 550.0C721.9 551.9 722.8 555.0 725.0 555.0C727.2 555.0 730.8 552.5 733.3 550.0C735.8 547.5 737.8 543.3 740.0 540.0C742.2 536.7 743.9 532.8 746.7 530.0C749.4 527.2 753.3 524.2 756.7 523.3C760.0 522.5 763.9 523.6 766.7 525.0C769.4 526.4 771.1 528.9 773.3 531.7C775.6 534.4 777.8 538.6 780.0 541.7C782.2 544.7 784.4 548.3 786.7 550.0C788.9 551.7 790.0 550.6 793.3 551.7C796.7 552.8 802.2 555.3 806.7 556.7C811.1 558.1 815.6 558.9 820.0 560.0C824.4 561.1 828.9 562.2 833.3 563.3C837.8 564.4 842.8 566.1 846.7 566.7C850.6 567.2 853.3 567.2 856.7 566.7C860.0 566.1 863.3 564.7 866.7 563.3C870.0 561.9 873.9 558.9 876.7 558.3C879.4 557.8 881.1 558.1 883.3 560.0C885.6 561.9 887.8 565.0 890.0 570.0C892.2 575.0 894.4 583.9 896.7 590.0C898.9 596.1 900.6 602.2 903.3 606.7C906.1 611.1 910.0 614.2 913.3 616.7C916.7 619.2 920.6 621.1 923.3 621.7C926.1 622.2 927.2 622.5 930.0 620.0C932.8 617.5 936.7 612.8 940.0 606.7C943.3 600.6 946.7 589.4 950.0 583.3C953.3 577.2 956.7 572.8 960.0 570.0C963.3 567.2 966.7 566.9 970.0 566.7C973.3 566.4 977.2 566.1 980.0 568.3C982.8 570.6 984.4 574.2 986.7 580.0C988.9 585.8 991.1 596.1 993.3 603.3C995.6 610.6 997.8 618.1 1000.0 623.3C1002.2 628.6 1004.4 632.8 1006.7 635.0C1008.9 637.2 1011.7 636.1 1013.3 636.7C1015.0 637.2 1015.0 638.9 1016.7 638.3C1018.3 637.8 1021.1 635.8 1023.3 633.3C1025.6 630.8 1027.8 627.2 1030.0 623.3C1032.2 619.4 1034.4 614.4 1036.7 610.0C1038.9 605.6 1041.1 600.0 1043.3 596.7C1045.6 593.3 1047.8 591.7 1050.0 590.0C1052.2 588.3 1054.4 585.0 1056.7 586.7C1058.9 588.3 1060.6 595.3 1063.3 600.0C1066.1 604.7 1070.6 613.9 1073.3 615.0C1076.1 616.1 1077.8 611.4 1080.0 606.7C1082.2 601.9 1084.4 593.3 1086.7 586.7C1088.9 580.0 1091.1 571.7 1093.3 566.7C1095.6 561.7 1097.8 558.3 1100.0 556.7C1102.2 555.0 1104.4 558.3 1106.7 556.7C1108.9 555.0 1111.1 550.6 1113.3 546.7C1115.6 542.8 1117.8 537.2 1120.0 533.3C1122.2 529.4 1124.4 527.2 1126.7 523.3C1128.9 519.4 1131.1 513.9 1133.3 510.0C1135.6 506.1 1138.9 501.7 1140.0 500.0" stroke="#ef9a50" stroke-width="1.4" fill="none" stroke-linejoin="round"/><path d="M68.0 573.3C69.1 572.2 72.4 568.6 74.7 566.7C76.9 564.7 79.1 562.8 81.3 561.7C83.6 560.6 85.8 559.7 88.0 560.0C90.2 560.3 92.4 562.8 94.7 563.3C96.9 563.9 99.1 563.9 101.3 563.3C103.6 562.8 105.8 562.2 108.0 560.0C110.2 557.8 112.7 552.5 114.7 550.0C116.6 547.5 118.0 545.0 119.7 545.0C121.3 545.0 122.7 547.5 124.7 550.0C126.6 552.5 129.1 557.2 131.3 560.0C133.6 562.8 135.2 565.6 138.0 566.7C140.8 567.8 145.2 566.9 148.0 566.7C150.8 566.4 152.4 564.4 154.7 565.0C156.9 565.6 159.1 568.3 161.3 570.0C163.6 571.7 165.8 573.6 168.0 575.0C170.2 576.4 172.4 574.2 174.7 578.3C176.9 582.5 179.4 594.2 181.3 600.0C183.3 605.8 184.7 610.8 186.3 613.3C188.0 615.8 189.4 616.1 191.3 615.0C193.3 613.9 195.8 610.3 198.0 606.7C200.2 603.1 202.4 597.2 204.7 593.3C206.9 589.4 209.1 587.2 211.3 583.3C213.6 579.4 216.1 574.2 218.0 570.0C219.9 565.8 221.6 560.0 223.0 558.3C224.4 556.7 225.2 557.5 226.3 560.0C227.4 562.5 228.3 566.7 229.7 573.3C231.1 580.0 232.7 590.6 234.7 600.0C236.6 609.4 239.1 621.7 241.3 630.0C243.6 638.3 246.1 645.6 248.0 650.0C249.9 654.4 251.3 658.3 253.0 656.7C254.7 655.0 256.1 649.4 258.0 640.0C259.9 630.6 263.0 611.1 264.7 600.0C266.3 588.9 266.3 580.6 268.0 573.3C269.7 566.1 272.4 560.8 274.7 556.7C276.9 552.5 279.1 549.4 281.3 548.3C283.6 547.2 285.8 549.2 288.0 550.0C290.2 550.8 292.4 551.1 294.7 553.3C296.9 555.6 299.9 561.7 301.3 563.3C302.8 565.0 302.4 562.8 303.3 563.3C304.2 563.9 305.0 566.9 306.7 566.7C308.3 566.4 311.1 561.1 313.3 561.7C315.6 562.2 317.8 567.5 320.0 570.0C322.2 572.5 324.4 573.9 326.7 576.7C328.9 579.4 331.1 583.9 333.3 586.7C335.6 589.4 337.8 591.1 340.0 593.3C342.2 595.6 344.4 595.6 346.7 600.0C348.9 604.4 351.1 615.0 353.3 620.0C355.6 625.0 357.8 627.8 360.0 630.0C362.2 632.2 364.4 630.6 366.7 633.3C368.9 636.1 371.4 644.4 373.3 646.7C375.3 648.9 376.7 648.3 378.3 646.7C380.0 645.0 381.4 640.6 383.3 636.7C385.3 632.8 387.8 628.3 390.0 623.3C392.2 618.3 395.0 611.4 396.7 606.7C398.3 601.9 398.3 597.2 400.0 595.0C401.7 592.8 404.4 593.1 406.7 593.3C408.9 593.6 411.1 593.3 413.3 596.7C415.6 600.0 418.1 608.9 420.0 613.3C421.9 617.8 422.8 622.8 425.0 623.3C427.2 623.9 430.8 619.4 433.3 616.7C435.8 613.9 437.8 609.4 440.0 606.7C442.2 603.9 444.7 601.1 446.7 600.0C448.6 598.9 450.0 597.2 451.7 600.0C453.3 602.8 454.7 607.8 456.7 616.7C458.6 625.6 461.7 644.7 463.3 653.3C465.0 661.9 465.6 666.7 466.7 668.3C467.8 670.0 468.3 668.1 470.0 663.3C471.7 658.6 474.4 647.2 476.7 640.0C478.9 632.8 481.1 625.6 483.3 620.0C485.6 614.4 487.8 613.3 490.0 606.7C492.2 600.0 494.4 587.2 496.7 580.0C498.9 572.8 501.1 568.9 503.3 563.3C505.6 557.8 507.8 551.1 510.0 546.7C512.2 542.2 514.4 536.1 516.7 536.7C518.9 537.2 521.1 550.6 523.3 550.0C525.6 549.4 527.8 537.8 530.0 533.3C532.2 528.9 533.9 524.2 536.7 523.3C539.4 522.5 543.9 527.5 546.7 528.3C549.4 529.2 551.1 526.9 553.3 528.3C555.6 529.7 557.8 532.5 560.0 536.7C562.2 540.8 564.4 548.3 566.7 553.3C568.9 558.3 571.1 562.8 573.3 566.7C575.6 570.6 577.8 576.7 580.0 576.7C582.2 576.7 584.4 570.6 586.7 566.7C588.9 562.8 591.1 557.5 593.3 553.3C595.6 549.2 597.8 543.9 600.0 541.7C602.2 539.4 604.7 540.3 606.7 540.0C608.6 539.7 609.4 537.2 611.7 540.0C613.9 542.8 617.5 552.8 620.0 556.7C622.5 560.6 624.4 560.6 626.7 563.3C628.9 566.1 631.1 568.9 633.3 573.3C635.6 577.8 637.8 585.6 640.0 590.0C642.2 594.4 644.4 601.7 646.7 600.0C648.9 598.3 651.1 586.7 653.3 580.0C655.6 573.3 657.8 565.6 660.0 560.0C662.2 554.4 664.4 551.1 666.7 546.7C668.9 542.2 671.1 537.8 673.3 533.3C675.6 528.9 678.1 522.8 680.0 520.0C681.9 517.2 683.3 516.1 685.0 516.7C686.7 517.2 688.1 520.0 690.0 523.3C691.9 526.7 694.4 533.6 696.7 536.7C698.9 539.7 701.1 540.0 703.3 541.7C705.6 543.3 707.2 544.7 710.0 546.7C712.8 548.6 717.2 551.9 720.0 553.3C722.8 554.7 724.4 557.8 726.7 555.0C728.9 552.2 731.1 541.7 733.3 536.7C735.6 531.7 737.8 527.2 740.0 525.0C742.2 522.8 744.2 523.9 746.7 523.3C749.2 522.8 752.2 521.1 755.0 521.7C757.8 522.2 760.8 524.2 763.3 526.7C765.8 529.2 767.8 532.8 770.0 536.7C772.2 540.6 775.0 547.5 776.7 550.0C778.3 552.5 778.3 551.4 780.0 551.7C781.7 551.9 784.4 551.4 786.7 551.7C788.9 551.9 791.1 552.2 793.3 553.3C795.6 554.4 797.2 557.8 800.0 558.3C802.8 558.9 806.7 556.4 810.0 556.7C813.3 556.9 816.1 558.6 820.0 560.0C823.9 561.4 829.4 563.6 833.3 565.0C837.2 566.4 841.1 568.3 843.3 568.3C845.6 568.3 844.4 565.3 846.7 565.0C848.9 564.7 853.9 567.2 856.7 566.7C859.4 566.1 861.1 563.3 863.3 561.7C865.6 560.0 868.1 557.8 870.0 556.7C871.9 555.6 873.3 554.4 875.0 555.0C876.7 555.6 878.1 556.4 880.0 560.0C881.9 563.6 884.4 571.1 886.7 576.7C888.9 582.2 891.1 587.2 893.3 593.3C895.6 599.4 897.8 608.3 900.0 613.3C902.2 618.3 904.4 623.1 906.7 623.3C908.9 623.6 911.1 615.0 913.3 615.0C915.6 615.0 917.8 621.9 920.0 623.3C922.2 624.7 924.4 626.1 926.7 623.3C928.9 620.6 931.1 612.2 933.3 606.7C935.6 601.1 937.8 595.0 940.0 590.0C942.2 585.0 944.4 580.0 946.7 576.7C948.9 573.3 951.1 571.7 953.3 570.0C955.6 568.3 957.8 568.3 960.0 566.7C962.2 565.0 964.7 560.0 966.7 560.0C968.6 560.0 970.0 565.0 971.7 566.7C973.3 568.3 974.7 566.7 976.7 570.0C978.6 573.3 981.1 579.4 983.3 586.7C985.6 593.9 987.8 605.6 990.0 613.3C992.2 621.1 994.4 628.6 996.7 633.3C998.9 638.1 1000.0 640.8 1003.3 641.7C1006.7 642.5 1013.3 640.3 1016.7 638.3C1020.0 636.4 1021.1 634.7 1023.3 630.0C1025.6 625.3 1027.8 616.1 1030.0 610.0C1032.2 603.9 1034.4 597.2 1036.7 593.3C1038.9 589.4 1041.1 587.5 1043.3 586.7C1045.6 585.8 1047.8 588.3 1050.0 588.3C1052.2 588.3 1054.7 583.6 1056.7 586.7C1058.6 589.7 1060.3 600.3 1061.7 606.7C1063.1 613.1 1063.6 622.8 1065.0 625.0C1066.4 627.2 1068.1 624.2 1070.0 620.0C1071.9 615.8 1074.4 606.1 1076.7 600.0C1078.9 593.9 1081.1 589.4 1083.3 583.3C1085.6 577.2 1088.3 567.8 1090.0 563.3C1091.7 558.9 1091.7 557.8 1093.3 556.7C1095.0 555.6 1097.8 557.8 1100.0 556.7C1102.2 555.6 1104.4 553.9 1106.7 550.0C1108.9 546.1 1111.1 538.3 1113.3 533.3C1115.6 528.3 1117.8 523.3 1120.0 520.0C1122.2 516.7 1124.4 517.2 1126.7 513.3C1128.9 509.4 1131.1 500.6 1133.3 496.7C1135.6 492.8 1138.9 491.1 1140.0 490.0" stroke="#3c9fd2" stroke-width="1.4" fill="none" stroke-linejoin="round"/></g><path d="M69 94.7H1167" stroke="#9a9a9a" stroke-width="1" stroke-dasharray="1.5 1.5" fill="none"/><path d="M69 161.5H1167" stroke="#a8a8a8" stroke-width="1" stroke-dasharray="2 3" fill="none"/><path d="M1125.5 4V681" stroke="#b4b4b4" stroke-width="1" stroke-dasharray="2 3" fill="none"/><path d="M69 479.5H1212M69 681.5H1167M1167.5 4V681" stroke="#6a6a6a" stroke-width="1" fill="none"/><path d="M69 34.8H1167" stroke="#2b2b9e" stroke-width="2.2"/><path d="M69 105.0H1167" stroke="#2b2b9e" stroke-width="2.2"/><path d="M69 152.6H1167" stroke="#2b2b9e" stroke-width="2.2"/><path d="M69 200.7H1167" stroke="#2b2b9e" stroke-width="2.2"/><path d="M69 226.0H1167" stroke="#2b2b9e" stroke-width="2.2"/><path d="M69 294.7H1167" stroke="#2b2b9e" stroke-width="2.2"/><path d="M69 364.5H1167" stroke="#2b2b9e" stroke-width="2.2"/><path d="M69 454.4H1167" stroke="#2b2b9e" stroke-width="2.2"/><g><path d="M1167 432.7h4" stroke="#888"/><text x="1172" y="436.5" font-size="10.5" fill="#666" textLength="19.5" lengthAdjust="spacingAndGlyphs">8950</text><path d="M1167 406.9h4" stroke="#888"/><text x="1172" y="410.7" font-size="10.5" fill="#666" textLength="19.5" lengthAdjust="spacingAndGlyphs">9000</text><path d="M1167 381.0h4" stroke="#888"/><text x="1172" y="384.8" font-size="10.5" fill="#666" textLength="19.5" lengthAdjust="spacingAndGlyphs">9050</text><path d="M1167 355.2h4" stroke="#888"/><text x="1172" y="359.0" font-size="10.5" fill="#666" textLength="19.5" lengthAdjust="spacingAndGlyphs">9100</text><path d="M1167 329.3h4" stroke="#888"/><text x="1172" y="333.1" font-size="10.5" fill="#666" textLength="19.5" lengthAdjust="spacingAndGlyphs">9150</text><path d="M1167 303.5h4" stroke="#888"/><text x="1172" y="307.3" font-size="10.5" fill="#666" textLength="19.5" lengthAdjust="spacingAndGlyphs">9200</text><path d="M1167 277.7h4" stroke="#888"/><text x="1172" y="281.5" font-size="10.5" fill="#666" textLength="19.5" lengthAdjust="spacingAndGlyphs">9250</text><path d="M1167 70.9h4" stroke="#888"/><text x="1172" y="74.7" font-size="10.5" fill="#666" textLength="19.5" lengthAdjust="spacingAndGlyphs">9650</text><path d="M1167 45.1h4" stroke="#888"/><text x="1172" y="48.9" font-size="10.5" fill="#666" textLength="19.5" lengthAdjust="spacingAndGlyphs">9700</text><path d="M1167 19.3h4" stroke="#888"/><text x="1172" y="23.1" font-size="10.5" fill="#666" textLength="19.5" lengthAdjust="spacingAndGlyphs">9750</text><path d="M1167 669.6h4" stroke="#888"/><text x="1168.7" y="673.4" font-size="10.5" fill="#666" textLength="38" lengthAdjust="spacingAndGlyphs">-80.0000</text><path d="M1167 645.5h4" stroke="#888"/><text x="1168.7" y="649.3" font-size="10.5" fill="#666" textLength="38" lengthAdjust="spacingAndGlyphs">-60.0000</text><path d="M1167 621.5h4" stroke="#888"/><text x="1168.7" y="625.3" font-size="10.5" fill="#666" textLength="38" lengthAdjust="spacingAndGlyphs">-40.0000</text><path d="M1167 597.4h4" stroke="#888"/><text x="1168.7" y="601.2" font-size="10.5" fill="#666" textLength="38" lengthAdjust="spacingAndGlyphs">-20.0000</text><path d="M1167 573.3h4" stroke="#888"/><text x="1172.2" y="577.1" font-size="10.5" fill="#666" textLength="34.5" lengthAdjust="spacingAndGlyphs">0.0000</text><path d="M1167 549.2h4" stroke="#888"/><text x="1172.2" y="553.0" font-size="10.5" fill="#666" textLength="34.5" lengthAdjust="spacingAndGlyphs">20.0000</text><path d="M1167 525.1h4" stroke="#888"/><text x="1172.2" y="528.9" font-size="10.5" fill="#666" textLength="34.5" lengthAdjust="spacingAndGlyphs">40.0000</text></g><g><rect x="1167" y="28.9" width="28" height="12.6" fill="#0a0ad6"/><text x="1171.3" y="38.7" font-size="9.8" font-weight="bold" fill="#fff" textLength="20" lengthAdjust="spacingAndGlyphs">9720</text><rect x="1167" y="88.8" width="28" height="12.6" fill="#22e8f0"/><text x="1171.3" y="98.6" font-size="9.8" font-weight="bold" fill="#1a4a50" textLength="20" lengthAdjust="spacingAndGlyphs">9604</text><rect x="1167" y="99.1" width="28" height="12.6" fill="#0a0ad6"/><text x="1171.3" y="108.9" font-size="9.8" font-weight="bold" fill="#fff" textLength="20" lengthAdjust="spacingAndGlyphs">9584</text><rect x="1167" y="115.2" width="28" height="12.6" fill="#0a0ad6"/><text x="1171.3" y="125.0" font-size="9.8" font-weight="bold" fill="#fff" textLength="20" lengthAdjust="spacingAndGlyphs">9553</text><rect x="1167" y="146.7" width="28" height="12.6" fill="#0a0ad6"/><text x="1171.3" y="156.5" font-size="9.8" font-weight="bold" fill="#fff" textLength="20" lengthAdjust="spacingAndGlyphs">9492</text><rect x="1167" y="155.5" width="28" height="12.6" fill="#555"/><text x="1171.3" y="165.3" font-size="9.8" font-weight="bold" fill="#fff" textLength="20" lengthAdjust="spacingAndGlyphs">9475</text><rect x="1167" y="167.9" width="28" height="12.6" fill="#f49a20"/><text x="1171.3" y="177.7" font-size="9.8" font-weight="bold" fill="#3a2a10" textLength="20" lengthAdjust="spacingAndGlyphs">9451</text><rect x="1167" y="179.8" width="28" height="12.6" fill="#30e030"/><text x="1171.3" y="189.6" font-size="9.8" font-weight="bold" fill="#eaffea" textLength="20" lengthAdjust="spacingAndGlyphs">9428</text><rect x="1167" y="194.8" width="28" height="12.6" fill="#0a0ad6"/><text x="1171.3" y="204.6" font-size="9.8" font-weight="bold" fill="#fff" textLength="20" lengthAdjust="spacingAndGlyphs">9399</text><rect x="1167" y="220.1" width="28" height="12.6" fill="#0a0ad6"/><text x="1171.3" y="229.9" font-size="9.8" font-weight="bold" fill="#fff" textLength="20" lengthAdjust="spacingAndGlyphs">9350</text><rect x="1167" y="243.3" width="28" height="12.6" fill="#e01c1c"/><text x="1171.3" y="253.1" font-size="9.8" font-weight="bold" fill="#fff" textLength="20" lengthAdjust="spacingAndGlyphs">9305</text><rect x="1167" y="288.8" width="28" height="12.6" fill="#0a0ad6"/><text x="1171.3" y="298.6" font-size="9.8" font-weight="bold" fill="#fff" textLength="20" lengthAdjust="spacingAndGlyphs">9217</text><rect x="1167" y="358.6" width="28" height="12.6" fill="#0a0ad6"/><text x="1171.3" y="368.4" font-size="9.8" font-weight="bold" fill="#fff" textLength="20" lengthAdjust="spacingAndGlyphs">9082</text><rect x="1167" y="448.5" width="28" height="12.6" fill="#0a0ad6"/><text x="1171.3" y="458.3" font-size="9.8" font-weight="bold" fill="#fff" textLength="20" lengthAdjust="spacingAndGlyphs">8908</text><rect x="1167" y="485" width="41" height="11.2" fill="#2b98ee"/><text x="1171.7" y="494.3" font-size="10.5" fill="#fff" textLength="31.5" lengthAdjust="spacingAndGlyphs">69.5424</text><rect x="1167" y="496" width="41" height="11.2" fill="#f47a22"/><text x="1171.7" y="505.3" font-size="10.5" fill="#fff" textLength="31.5" lengthAdjust="spacingAndGlyphs">60.3409</text><rect x="1167" y="557.5" width="41" height="11.2" fill="#e8177f"/><text x="1171.7" y="566.8" font-size="10.5" fill="#fff" textLength="27.6" lengthAdjust="spacingAndGlyphs">9.2015</text></g><g><path d="M97.5 681v4" stroke="#888"/><text x="92.6" y="693.4" font-size="10" fill="#555" textLength="9.8" lengthAdjust="spacingAndGlyphs" >24</text><path d="M161 681v4" stroke="#888"/><text x="150.2" y="693.4" font-size="10" fill="#555" textLength="21.5" lengthAdjust="spacingAndGlyphs" >12:00</text><path d="M230 681v4" stroke="#888"/><text x="221.5" y="693.4" font-size="10" fill="#555" textLength="17" lengthAdjust="spacingAndGlyphs" font-weight=bold>Mar</text><path d="M292 681v4" stroke="#888"/><text x="281.2" y="693.4" font-size="10" fill="#555" textLength="21.5" lengthAdjust="spacingAndGlyphs" >12:00</text><path d="M360 681v4" stroke="#888"/><text x="355.1" y="693.4" font-size="10" fill="#555" textLength="9.8" lengthAdjust="spacingAndGlyphs" >10</text><path d="M424.5 681v4" stroke="#888"/><text x="413.8" y="693.4" font-size="10" fill="#555" textLength="21.5" lengthAdjust="spacingAndGlyphs" >12:00</text><path d="M491.5 681v4" stroke="#888"/><text x="486.6" y="693.4" font-size="10" fill="#555" textLength="9.8" lengthAdjust="spacingAndGlyphs" >17</text><path d="M552.5 681v4" stroke="#888"/><text x="541.8" y="693.4" font-size="10" fill="#555" textLength="21.5" lengthAdjust="spacingAndGlyphs" >12:00</text><path d="M622 681v4" stroke="#888"/><text x="617.1" y="693.4" font-size="10" fill="#555" textLength="9.8" lengthAdjust="spacingAndGlyphs" >24</text><path d="M700 681v4" stroke="#888"/><text x="695.1" y="693.4" font-size="10" fill="#555" textLength="9.8" lengthAdjust="spacingAndGlyphs" >27</text><path d="M780 681v4" stroke="#888"/><text x="771.5" y="693.4" font-size="10" fill="#555" textLength="17" lengthAdjust="spacingAndGlyphs" font-weight=bold>Apr</text><path d="M884.5 681v4" stroke="#888"/><text x="882.0" y="693.4" font-size="10" fill="#555" textLength="4.9" lengthAdjust="spacingAndGlyphs" >7</text><path d="M950.5 681v4" stroke="#888"/><text x="939.8" y="693.4" font-size="10" fill="#555" textLength="21.5" lengthAdjust="spacingAndGlyphs" >12:00</text><path d="M1016.5 681v4" stroke="#888"/><text x="1011.6" y="693.4" font-size="10" fill="#555" textLength="9.8" lengthAdjust="spacingAndGlyphs" >14</text><rect x="1081.5" y="681.5" width="84.5" height="15.5" fill="#555"/><text x="1085" y="693.3" font-size="10.5" fill="#fff" textLength="80" lengthAdjust="spacingAndGlyphs">2014-04-22 07:00:00</text></g><g><text x="84.5" y="710.2" font-size="10" text-anchor="middle" fill="#8f959e" font-weight="bold">All</text><text x="116" y="710.2" font-size="10" text-anchor="middle" fill="#8f959e" font-weight="bold">5y</text><text x="146" y="710.2" font-size="10" text-anchor="middle" fill="#8f959e" font-weight="bold">1y</text><text x="180" y="710.2" font-size="10" text-anchor="middle" fill="#8f959e" font-weight="bold">YTD</text><text x="216" y="710.2" font-size="10" text-anchor="middle" fill="#8f959e" font-weight="bold">6m</text><text x="250" y="710.2" font-size="10" text-anchor="middle" fill="#8f959e" font-weight="bold">3m</text><text x="285" y="710.2" font-size="10" text-anchor="middle" fill="#8f959e" font-weight="bold">1m</text><text x="318" y="710.2" font-size="10" text-anchor="middle" fill="#8f959e" font-weight="bold">5d</text><text x="349" y="710.2" font-size="10" text-anchor="middle" fill="#8f959e" font-weight="bold">1d</text><text x="1131" y="710.2" font-size="10" text-anchor="middle" fill="#8f959e" font-weight="bold">%</text><text x="1162" y="710.2" font-size="10" text-anchor="middle" fill="#8f959e" font-weight="bold">log</text><path d="M100 700v13M130 700v13M161 700v13M198 700v13M233 700v13M266 700v13M302 700v13M333 700v13M1145 700v13M1179 700v13" stroke="#d3d7de"/><circle cx="1196" cy="706" r="5" fill="none" stroke="#9aa0a8" stroke-width="1.2"/><path d="M1196 702.5V706.5L1194 708" stroke="#9aa0a8" fill="none" stroke-width="1"/></g><g><rect x="74.5" y="12" width="13" height="13" fill="#e2e3e6"/><path d="M78 20l3-3 3 3" stroke="#f4f4f6" fill="none" stroke-width="1.5"/><text x="91.5" y="23.3" font-size="13.8" fill="#555" textLength="315" lengthAdjust="spacing">DAX index of German listed shares, 60, FXCM</text><rect x="413" y="13.5" width="10" height="10" fill="#e8e8ea"/><rect x="426" y="13.5" width="10.5" height="10" fill="#e8e8ea"/><text x="443" y="23" font-size="11" fill="#555" textLength="158" lengthAdjust="spacing">O <tspan fill="#6f9e86">9454</tspan> H <tspan fill="#6f9e86">9525</tspan> L <tspan fill="#6f9e86">9439</tspan> C <tspan fill="#6f9e86">9503</tspan></text><text x="75" y="38.8" font-size="10.5" fill="#666" textLength="119" lengthAdjust="spacing">Ichimoku (7, 22, 44, 22)</text><rect x="203" y="30" width="10" height="10" fill="#ececee"/><rect x="216" y="30" width="10" height="10" fill="#ececee"/><rect x="229" y="30" width="10" height="10" fill="#ececee"/><text x="251" y="38.8" font-size="10.5" fill="#1c1c8a" textLength="53" lengthAdjust="spacing">9460.0000</text><text x="314" y="38.8" font-size="10.5" fill="#e8b070" textLength="53" lengthAdjust="spacing">9396.5000</text><text x="376" y="38.8" font-size="10.5" fill="#3ad4ea" textLength="53" lengthAdjust="spacing">9604.0000</text><text x="438" y="38.8" font-size="10.5" fill="#5ac45a" textLength="53" lengthAdjust="spacing">9237.0000</text><text x="501" y="38.8" font-size="10.5" fill="#c43a6a" textLength="53" lengthAdjust="spacing">9210.5000</text><text x="74" y="496.2" font-size="10.5" fill="#555" textLength="174" lengthAdjust="spacing">MACD (12, 26, close, 9, false, true)</text><rect x="258" y="487" width="10" height="10" fill="#ececee"/><rect x="271" y="487" width="10" height="10" fill="#ececee"/><rect x="284" y="487" width="10" height="10" fill="#ececee"/><text x="304" y="496.2" font-size="10.5" fill="#c8409a" textLength="42" lengthAdjust="spacing">10.2582</text><text x="355" y="496.2" font-size="10.5" fill="#3a9fd0" textLength="42" lengthAdjust="spacing">49.8621</text><text x="405" y="496.2" font-size="10.5" fill="#e8984a" textLength="42" lengthAdjust="spacing">39.6039</text><rect x="592.5" y="-1" width="99" height="14" rx="2" fill="#f6f7f9" stroke="#e2e4e8"/><text x="597" y="10" font-size="9" fill="#b0b0b4" font-weight="bold" textLength="90" lengthAdjust="spacing">Exit Full Screen (ESC)</text><circle cx="1123.2" cy="18.1" r="5" fill="#e0f6ee" stroke="#4d6e5e" stroke-width="1.6"/><path d="M1124.5 15.8l-2 2.2 2 2.2" stroke="#4d6e5e" fill="none" stroke-width="1"/><text x="1133" y="21" font-size="7.5" font-weight="bold" fill="#62806f" textLength="29" lengthAdjust="spacingAndGlyphs">REALTIME</text><circle cx="598.7" cy="665.7" r="8.4" fill="#f8f8f8" fill-opacity="0.8" stroke="#d8d8d8" stroke-width="1.3"/><circle cx="619.4" cy="665.7" r="8.4" fill="#f8f8f8" fill-opacity="0.8" stroke="#d8d8d8" stroke-width="1.3"/><circle cx="640" cy="665.7" r="8.4" fill="#f8f8f8" fill-opacity="0.8" stroke="#d8d8d8" stroke-width="1.3"/><circle cx="661.5" cy="665.7" r="8.4" fill="#f8f8f8" fill-opacity="0.8" stroke="#d8d8d8" stroke-width="1.3"/><circle cx="682.5" cy="665.7" r="8.4" fill="#f8f8f8" fill-opacity="0.8" stroke="#d8d8d8" stroke-width="1.3"/><path d="M595.8 665.7l3.8-3.3v6.6z" fill="#aaa"/><path d="M615.5 665.7h8" stroke="#aaa" stroke-width="1.8"/><path d="M643.2 663.4a3.8 3.8 0 1 0 0.6 3" stroke="#aaa" stroke-width="1.4" fill="none"/><path d="M644.5 660.8v3.6h-3.4z" fill="#aaa"/><path d="M657.5 665.7h8M661.5 661.7v8" stroke="#aaa" stroke-width="1.8"/><path d="M685.5 665.7l-3.8-3.3v6.6z" fill="#aaa"/><rect x="1150.5" y="484.5" width="11" height="10.5" fill="#e6e6e8"/><path d="M1153 490.5l3-3 3 3M1156 487.8v5" stroke="#fafafa" stroke-width="1.3" fill="none"/><path d="M1124.7 161.9V175l3-2.6 2.2 4.6 1.8-0.9-2.2-4.4h4z" fill="#fff" stroke="#111" stroke-width="0.9" stroke-linejoin="round"/></g></svg></body></html>
